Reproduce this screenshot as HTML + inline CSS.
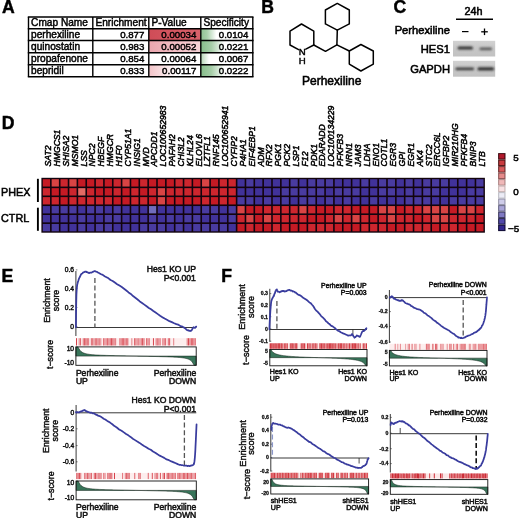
<!DOCTYPE html>
<html><head><meta charset="utf-8"><title>Figure</title>
<style>
html,body{margin:0;padding:0;background:#fff;}
svg{display:block;font-family:'Liberation Sans', Arial, sans-serif;}
</style></head><body>
<svg width="520" height="518" viewBox="0 0 520 518" font-family="Liberation Sans, Arial, sans-serif">
<rect width="520" height="518" fill="#fff"/>
<text x="2.0" y="12.6" font-size="17.6" text-anchor="start" font-weight="bold" font-style="normal" fill="#000" stroke="#000" stroke-width="0.45" >A</text>
<text x="261.2" y="12.8" font-size="17.6" text-anchor="start" font-weight="bold" font-style="normal" fill="#000" stroke="#000" stroke-width="0.45" >B</text>
<text x="393.6" y="12.8" font-size="17.6" text-anchor="start" font-weight="bold" font-style="normal" fill="#000" stroke="#000" stroke-width="0.45" >C</text>
<text x="1.8" y="129.1" font-size="17.6" text-anchor="start" font-weight="bold" font-style="normal" fill="#000" stroke="#000" stroke-width="0.45" >D</text>
<text x="1.6" y="281.9" font-size="17.6" text-anchor="start" font-weight="bold" font-style="normal" fill="#000" stroke="#000" stroke-width="0.45" >E</text>
<text x="221.2" y="281.8" font-size="17.6" text-anchor="start" font-weight="bold" font-style="normal" fill="#000" stroke="#000" stroke-width="0.45" >F</text>
<defs>
<linearGradient id="s0" x1="0" x2="1" y1="0" y2="0"><stop offset="0" stop-color="#8fc293"/><stop offset="0.12" stop-color="#a9d0ab"/><stop offset="0.3" stop-color="#ffffff"/></linearGradient>
<linearGradient id="s1" x1="0" x2="1" y1="0" y2="0"><stop offset="0" stop-color="#86bd8a"/><stop offset="0.2" stop-color="#a5cda7"/><stop offset="0.45" stop-color="#ffffff"/></linearGradient>
<linearGradient id="s2" x1="0" x2="1" y1="0" y2="0"><stop offset="0" stop-color="#b4d6b5"/><stop offset="0.16" stop-color="#ffffff"/></linearGradient>
<linearGradient id="s3" x1="0" x2="1" y1="0" y2="0"><stop offset="0" stop-color="#86bd8a"/><stop offset="0.2" stop-color="#a5cda7"/><stop offset="0.45" stop-color="#ffffff"/></linearGradient>
<linearGradient id="p0" x1="0" x2="1" y1="0" y2="0"><stop offset="0" stop-color="#cf4c57"/><stop offset="1" stop-color="#d9626b"/></linearGradient>
<linearGradient id="p1" x1="0" x2="1" y1="0" y2="0"><stop offset="0" stop-color="#eba6ae"/><stop offset="1" stop-color="#f6d3d7"/></linearGradient>
<linearGradient id="p3" x1="0" x2="1" y1="0" y2="0"><stop offset="0" stop-color="#f3c3c8"/><stop offset="0.55" stop-color="#ffffff"/></linearGradient>
</defs>
<rect x="148.8" y="28.7" width="52.0" height="11.8" fill="url(#p0)"/>
<rect x="200.8" y="28.7" width="52.0" height="11.8" fill="url(#s0)"/>
<rect x="148.8" y="40.5" width="52.0" height="12.299999999999997" fill="url(#p1)"/>
<rect x="200.8" y="40.5" width="52.0" height="12.299999999999997" fill="url(#s1)"/>
<rect x="148.8" y="52.8" width="52.0" height="12.0" fill="#ffffff"/>
<rect x="200.8" y="52.8" width="52.0" height="12.0" fill="url(#s2)"/>
<rect x="148.8" y="64.8" width="52.0" height="11.900000000000006" fill="url(#p3)"/>
<rect x="200.8" y="64.8" width="52.0" height="11.900000000000006" fill="url(#s3)"/>
<line x1="27.8" x2="253.5" y1="17" y2="17" stroke="#000" stroke-width="1.5"/>
<line x1="27.8" x2="253.5" y1="28.7" y2="28.7" stroke="#000" stroke-width="1.5"/>
<line x1="27.8" x2="253.5" y1="40.5" y2="40.5" stroke="#000" stroke-width="1.5"/>
<line x1="27.8" x2="253.5" y1="52.8" y2="52.8" stroke="#000" stroke-width="1.5"/>
<line x1="27.8" x2="253.5" y1="64.8" y2="64.8" stroke="#000" stroke-width="1.5"/>
<line x1="27.8" x2="253.5" y1="76.7" y2="76.7" stroke="#000" stroke-width="1.5"/>
<line x1="28.5" x2="28.5" y1="17" y2="76.7" stroke="#000" stroke-width="1.4"/>
<line x1="92.8" x2="92.8" y1="17" y2="76.7" stroke="#000" stroke-width="1.4"/>
<line x1="148.8" x2="148.8" y1="17" y2="76.7" stroke="#000" stroke-width="1.4"/>
<line x1="200.8" x2="200.8" y1="17" y2="76.7" stroke="#000" stroke-width="1.4"/>
<line x1="252.8" x2="252.8" y1="17" y2="76.7" stroke="#000" stroke-width="1.4"/>
<text x="31.1" y="25.8" font-size="10.15" text-anchor="start" font-weight="normal" font-style="normal" fill="#000" stroke="#000" stroke-width="0.45" >Cmap Name</text>
<text x="95.39999999999999" y="25.8" font-size="10.15" text-anchor="start" font-weight="normal" font-style="normal" fill="#000" stroke="#000" stroke-width="0.45" >Enrichment</text>
<text x="151.4" y="25.8" font-size="10.15" text-anchor="start" font-weight="normal" font-style="normal" fill="#000" stroke="#000" stroke-width="0.45" >P-Value</text>
<text x="203.4" y="25.8" font-size="10.15" text-anchor="start" font-weight="normal" font-style="normal" fill="#000" stroke="#000" stroke-width="0.45" >Specificity</text>
<text x="31.1" y="37.5" font-size="10.15" text-anchor="start" font-weight="normal" font-style="normal" fill="#000" stroke="#000" stroke-width="0.45" >perhexiline</text>
<text x="144.4" y="37.5" font-size="9.7" text-anchor="end" font-weight="normal" font-style="normal" fill="#000" stroke="#000" stroke-width="0.45" >0.877</text>
<text x="196.4" y="37.5" font-size="9.7" text-anchor="end" font-weight="normal" font-style="normal" fill="#000" stroke="#000" stroke-width="0.45" >0.00034</text>
<text x="248.4" y="37.5" font-size="9.7" text-anchor="end" font-weight="normal" font-style="normal" fill="#000" stroke="#000" stroke-width="0.45" >0.0104</text>
<text x="31.1" y="49.8" font-size="10.15" text-anchor="start" font-weight="normal" font-style="normal" fill="#000" stroke="#000" stroke-width="0.45" >quinostatin</text>
<text x="144.4" y="49.8" font-size="9.7" text-anchor="end" font-weight="normal" font-style="normal" fill="#000" stroke="#000" stroke-width="0.45" >0.983</text>
<text x="196.4" y="49.8" font-size="9.7" text-anchor="end" font-weight="normal" font-style="normal" fill="#000" stroke="#000" stroke-width="0.45" >0.00052</text>
<text x="248.4" y="49.8" font-size="9.7" text-anchor="end" font-weight="normal" font-style="normal" fill="#000" stroke="#000" stroke-width="0.45" >0.0221</text>
<text x="31.1" y="61.8" font-size="10.15" text-anchor="start" font-weight="normal" font-style="normal" fill="#000" stroke="#000" stroke-width="0.45" >propafenone</text>
<text x="144.4" y="61.8" font-size="9.7" text-anchor="end" font-weight="normal" font-style="normal" fill="#000" stroke="#000" stroke-width="0.45" >0.854</text>
<text x="196.4" y="61.8" font-size="9.7" text-anchor="end" font-weight="normal" font-style="normal" fill="#000" stroke="#000" stroke-width="0.45" >0.00064</text>
<text x="248.4" y="61.8" font-size="9.7" text-anchor="end" font-weight="normal" font-style="normal" fill="#000" stroke="#000" stroke-width="0.45" >0.0067</text>
<text x="31.1" y="73.7" font-size="10.15" text-anchor="start" font-weight="normal" font-style="normal" fill="#000" stroke="#000" stroke-width="0.45" >bepridil</text>
<text x="144.4" y="73.7" font-size="9.7" text-anchor="end" font-weight="normal" font-style="normal" fill="#000" stroke="#000" stroke-width="0.45" >0.833</text>
<text x="196.4" y="73.7" font-size="9.7" text-anchor="end" font-weight="normal" font-style="normal" fill="#000" stroke="#000" stroke-width="0.45" >0.00117</text>
<text x="248.4" y="73.7" font-size="9.7" text-anchor="end" font-weight="normal" font-style="normal" fill="#000" stroke="#000" stroke-width="0.45" >0.0222</text>
<path d="M337.3,3.4 L349.3,10.0 L349.3,23.9 L337.3,30.1 L325.4,23.9 L325.4,10.0 Z" fill="none" stroke="#000" stroke-width="1.5" stroke-linejoin="round" stroke-linecap="round"/>
<path d="M349.3,51.0 L360.9,44.5 L373.3,51.0 L373.3,64.1 L360.9,71.0 L349.3,64.1 Z" fill="none" stroke="#000" stroke-width="1.5" stroke-linejoin="round" stroke-linecap="round"/>
<path d="M305.8,49.2 L313.8,45.0 L313.8,31.2 L301.5,24.0 L290.0,31.2 L290.0,45.0 L298.6,49.6" fill="none" stroke="#000" stroke-width="1.5" stroke-linejoin="round" stroke-linecap="round"/>
<path d="M313.8,45.0 L325.5,51.3 L336.9,44.8 L337.3,30.1" fill="none" stroke="#000" stroke-width="1.5" stroke-linejoin="round" stroke-linecap="round"/>
<path d="M336.9,44.8 L349.3,51.0" fill="none" stroke="#000" stroke-width="1.5" stroke-linejoin="round" stroke-linecap="round"/>
<text x="302.3" y="55.2" font-size="9.6" text-anchor="middle" font-weight="normal" font-style="normal" fill="#000" stroke="#000" stroke-width="0.45" >N</text>
<text x="302.3" y="64.1" font-size="9.6" text-anchor="middle" font-weight="normal" font-style="normal" fill="#000" stroke="#000" stroke-width="0.45" >H</text>
<text x="331.7" y="85.0" font-size="12" text-anchor="middle" font-weight="normal" font-style="normal" fill="#000" stroke="#000" stroke-width="0.55" >Perhexiline</text>
<text x="473.5" y="15" font-size="10.8" text-anchor="middle" font-weight="normal" font-style="normal" fill="#000" stroke="#000" stroke-width="0.55" >24h</text>
<line x1="456" x2="493" y1="19.3" y2="19.3" stroke="#000" stroke-width="1.6"/>
<text x="450" y="34.0" font-size="11.2" text-anchor="end" font-weight="normal" font-style="normal" fill="#000" stroke="#000" stroke-width="0.55" >Perhexiline</text>
<line x1="462" x2="468.5" y1="31.6" y2="31.6" stroke="#000" stroke-width="1.2"/>
<line x1="481.2" x2="487.8" y1="31.8" y2="31.8" stroke="#000" stroke-width="1.3"/>
<line x1="484.5" x2="484.5" y1="28.5" y2="35.1" stroke="#000" stroke-width="1.3"/>
<text x="450" y="53" font-size="11.2" text-anchor="end" font-weight="normal" font-style="normal" fill="#000" stroke="#000" stroke-width="0.55" >HES1</text>
<text x="450" y="72.9" font-size="11.2" text-anchor="end" font-weight="normal" font-style="normal" fill="#000" stroke="#000" stroke-width="0.55" >GAPDH</text>
<defs><filter id="bl" x="-20%" y="-50%" width="140%" height="200%"><feGaussianBlur stdDeviation="0.9"/></filter></defs>
<defs><linearGradient id="bg1" x1="0" x2="0" y1="0" y2="1"><stop offset="0" stop-color="#d2d2d2"/><stop offset="0.5" stop-color="#c6c6c6"/><stop offset="1" stop-color="#c2c2c2"/></linearGradient></defs>
<rect x="453" y="40.8" width="42.2" height="15.7" fill="url(#bg1)"/>
<rect x="453" y="60.8" width="42.2" height="15.9" fill="url(#bg1)"/>
<g filter="url(#bl)">
<rect x="457.5" y="46.4" width="15.5" height="3.2" rx="1.5" fill="#333"/>
<rect x="479.5" y="47.6" width="12.5" height="2.6" rx="1.3" fill="#5a5a5a"/>
<rect x="455.5" y="67.6" width="18.5" height="2.6" rx="1.3" fill="#3c3c3c"/>
<rect x="477.5" y="67.2" width="16.5" height="3.2" rx="1.5" fill="#303030"/>
</g>
<rect x="41.4" y="177.8" width="443.5" height="54.9" fill="#12040e"/>
<rect x="42.80" y="179.20" width="7.25" height="7.35" fill="#c51a24"/>
<rect x="51.65" y="179.20" width="7.25" height="7.35" fill="#d84444"/>
<rect x="60.49" y="179.20" width="7.25" height="7.35" fill="#cd262e"/>
<rect x="69.34" y="179.20" width="7.25" height="7.35" fill="#d84444"/>
<rect x="78.18" y="179.20" width="7.25" height="7.35" fill="#c51a24"/>
<rect x="87.03" y="179.20" width="7.25" height="7.35" fill="#c51a24"/>
<rect x="95.88" y="179.20" width="7.25" height="7.35" fill="#cd262e"/>
<rect x="104.72" y="179.20" width="7.25" height="7.35" fill="#c51a24"/>
<rect x="113.57" y="179.20" width="7.25" height="7.35" fill="#cd262e"/>
<rect x="122.41" y="179.20" width="7.25" height="7.35" fill="#d84444"/>
<rect x="131.26" y="179.20" width="7.25" height="7.35" fill="#c51a24"/>
<rect x="140.11" y="179.20" width="7.25" height="7.35" fill="#cd262e"/>
<rect x="148.95" y="179.20" width="7.25" height="7.35" fill="#c51a24"/>
<rect x="157.80" y="179.20" width="7.25" height="7.35" fill="#c51a24"/>
<rect x="166.64" y="179.20" width="7.25" height="7.35" fill="#c51a24"/>
<rect x="175.49" y="179.20" width="7.25" height="7.35" fill="#cd262e"/>
<rect x="184.34" y="179.20" width="7.25" height="7.35" fill="#cd262e"/>
<rect x="193.18" y="179.20" width="7.25" height="7.35" fill="#c51a24"/>
<rect x="202.03" y="179.20" width="7.25" height="7.35" fill="#d84444"/>
<rect x="210.87" y="179.20" width="7.25" height="7.35" fill="#c51a24"/>
<rect x="219.72" y="179.20" width="7.25" height="7.35" fill="#cd262e"/>
<rect x="228.57" y="179.20" width="7.25" height="7.35" fill="#cd262e"/>
<rect x="237.41" y="179.20" width="7.25" height="7.35" fill="#41329a"/>
<rect x="246.26" y="179.20" width="7.25" height="7.35" fill="#493ba0"/>
<rect x="255.10" y="179.20" width="7.25" height="7.35" fill="#41329a"/>
<rect x="263.95" y="179.20" width="7.25" height="7.35" fill="#41329a"/>
<rect x="272.80" y="179.20" width="7.25" height="7.35" fill="#41329a"/>
<rect x="281.64" y="179.20" width="7.25" height="7.35" fill="#41329a"/>
<rect x="290.49" y="179.20" width="7.25" height="7.35" fill="#493ba0"/>
<rect x="299.33" y="179.20" width="7.25" height="7.35" fill="#41329a"/>
<rect x="308.18" y="179.20" width="7.25" height="7.35" fill="#493ba0"/>
<rect x="317.03" y="179.20" width="7.25" height="7.35" fill="#493ba0"/>
<rect x="325.87" y="179.20" width="7.25" height="7.35" fill="#493ba0"/>
<rect x="334.72" y="179.20" width="7.25" height="7.35" fill="#41329a"/>
<rect x="343.56" y="179.20" width="7.25" height="7.35" fill="#41329a"/>
<rect x="352.41" y="179.20" width="7.25" height="7.35" fill="#41329a"/>
<rect x="361.26" y="179.20" width="7.25" height="7.35" fill="#493ba0"/>
<rect x="370.10" y="179.20" width="7.25" height="7.35" fill="#41329a"/>
<rect x="378.95" y="179.20" width="7.25" height="7.35" fill="#493ba0"/>
<rect x="387.79" y="179.20" width="7.25" height="7.35" fill="#493ba0"/>
<rect x="396.64" y="179.20" width="7.25" height="7.35" fill="#41329a"/>
<rect x="405.49" y="179.20" width="7.25" height="7.35" fill="#493ba0"/>
<rect x="414.33" y="179.20" width="7.25" height="7.35" fill="#41329a"/>
<rect x="423.18" y="179.20" width="7.25" height="7.35" fill="#493ba0"/>
<rect x="432.02" y="179.20" width="7.25" height="7.35" fill="#493ba0"/>
<rect x="440.87" y="179.20" width="7.25" height="7.35" fill="#493ba0"/>
<rect x="449.72" y="179.20" width="7.25" height="7.35" fill="#41329a"/>
<rect x="458.56" y="179.20" width="7.25" height="7.35" fill="#41329a"/>
<rect x="467.41" y="179.20" width="7.25" height="7.35" fill="#41329a"/>
<rect x="476.25" y="179.20" width="7.25" height="7.35" fill="#493ba0"/>
<rect x="42.80" y="188.15" width="7.25" height="7.35" fill="#cd262e"/>
<rect x="51.65" y="188.15" width="7.25" height="7.35" fill="#c51a24"/>
<rect x="60.49" y="188.15" width="7.25" height="7.35" fill="#c51a24"/>
<rect x="69.34" y="188.15" width="7.25" height="7.35" fill="#cd262e"/>
<rect x="78.18" y="188.15" width="7.25" height="7.35" fill="#e26a64"/>
<rect x="87.03" y="188.15" width="7.25" height="7.35" fill="#cd262e"/>
<rect x="95.88" y="188.15" width="7.25" height="7.35" fill="#c51a24"/>
<rect x="104.72" y="188.15" width="7.25" height="7.35" fill="#c51a24"/>
<rect x="113.57" y="188.15" width="7.25" height="7.35" fill="#cd262e"/>
<rect x="122.41" y="188.15" width="7.25" height="7.35" fill="#c51a24"/>
<rect x="131.26" y="188.15" width="7.25" height="7.35" fill="#cd262e"/>
<rect x="140.11" y="188.15" width="7.25" height="7.35" fill="#c51a24"/>
<rect x="148.95" y="188.15" width="7.25" height="7.35" fill="#cd262e"/>
<rect x="157.80" y="188.15" width="7.25" height="7.35" fill="#d84444"/>
<rect x="166.64" y="188.15" width="7.25" height="7.35" fill="#cd262e"/>
<rect x="175.49" y="188.15" width="7.25" height="7.35" fill="#cd262e"/>
<rect x="184.34" y="188.15" width="7.25" height="7.35" fill="#cd262e"/>
<rect x="193.18" y="188.15" width="7.25" height="7.35" fill="#cd262e"/>
<rect x="202.03" y="188.15" width="7.25" height="7.35" fill="#cd262e"/>
<rect x="210.87" y="188.15" width="7.25" height="7.35" fill="#cd262e"/>
<rect x="219.72" y="188.15" width="7.25" height="7.35" fill="#cd262e"/>
<rect x="228.57" y="188.15" width="7.25" height="7.35" fill="#cd262e"/>
<rect x="237.41" y="188.15" width="7.25" height="7.35" fill="#41329a"/>
<rect x="246.26" y="188.15" width="7.25" height="7.35" fill="#41329a"/>
<rect x="255.10" y="188.15" width="7.25" height="7.35" fill="#41329a"/>
<rect x="263.95" y="188.15" width="7.25" height="7.35" fill="#41329a"/>
<rect x="272.80" y="188.15" width="7.25" height="7.35" fill="#41329a"/>
<rect x="281.64" y="188.15" width="7.25" height="7.35" fill="#493ba0"/>
<rect x="290.49" y="188.15" width="7.25" height="7.35" fill="#493ba0"/>
<rect x="299.33" y="188.15" width="7.25" height="7.35" fill="#493ba0"/>
<rect x="308.18" y="188.15" width="7.25" height="7.35" fill="#493ba0"/>
<rect x="317.03" y="188.15" width="7.25" height="7.35" fill="#493ba0"/>
<rect x="325.87" y="188.15" width="7.25" height="7.35" fill="#41329a"/>
<rect x="334.72" y="188.15" width="7.25" height="7.35" fill="#493ba0"/>
<rect x="343.56" y="188.15" width="7.25" height="7.35" fill="#493ba0"/>
<rect x="352.41" y="188.15" width="7.25" height="7.35" fill="#493ba0"/>
<rect x="361.26" y="188.15" width="7.25" height="7.35" fill="#41329a"/>
<rect x="370.10" y="188.15" width="7.25" height="7.35" fill="#41329a"/>
<rect x="378.95" y="188.15" width="7.25" height="7.35" fill="#493ba0"/>
<rect x="387.79" y="188.15" width="7.25" height="7.35" fill="#493ba0"/>
<rect x="396.64" y="188.15" width="7.25" height="7.35" fill="#41329a"/>
<rect x="405.49" y="188.15" width="7.25" height="7.35" fill="#493ba0"/>
<rect x="414.33" y="188.15" width="7.25" height="7.35" fill="#41329a"/>
<rect x="423.18" y="188.15" width="7.25" height="7.35" fill="#493ba0"/>
<rect x="432.02" y="188.15" width="7.25" height="7.35" fill="#493ba0"/>
<rect x="440.87" y="188.15" width="7.25" height="7.35" fill="#41329a"/>
<rect x="449.72" y="188.15" width="7.25" height="7.35" fill="#41329a"/>
<rect x="458.56" y="188.15" width="7.25" height="7.35" fill="#41329a"/>
<rect x="467.41" y="188.15" width="7.25" height="7.35" fill="#493ba0"/>
<rect x="476.25" y="188.15" width="7.25" height="7.35" fill="#493ba0"/>
<rect x="42.80" y="197.10" width="7.25" height="7.35" fill="#cd262e"/>
<rect x="51.65" y="197.10" width="7.25" height="7.35" fill="#cd262e"/>
<rect x="60.49" y="197.10" width="7.25" height="7.35" fill="#c51a24"/>
<rect x="69.34" y="197.10" width="7.25" height="7.35" fill="#cd262e"/>
<rect x="78.18" y="197.10" width="7.25" height="7.35" fill="#cd262e"/>
<rect x="87.03" y="197.10" width="7.25" height="7.35" fill="#cd262e"/>
<rect x="95.88" y="197.10" width="7.25" height="7.35" fill="#cd262e"/>
<rect x="104.72" y="197.10" width="7.25" height="7.35" fill="#cd262e"/>
<rect x="113.57" y="197.10" width="7.25" height="7.35" fill="#c51a24"/>
<rect x="122.41" y="197.10" width="7.25" height="7.35" fill="#c51a24"/>
<rect x="131.26" y="197.10" width="7.25" height="7.35" fill="#cd262e"/>
<rect x="140.11" y="197.10" width="7.25" height="7.35" fill="#cd262e"/>
<rect x="148.95" y="197.10" width="7.25" height="7.35" fill="#c51a24"/>
<rect x="157.80" y="197.10" width="7.25" height="7.35" fill="#d84444"/>
<rect x="166.64" y="197.10" width="7.25" height="7.35" fill="#c51a24"/>
<rect x="175.49" y="197.10" width="7.25" height="7.35" fill="#c51a24"/>
<rect x="184.34" y="197.10" width="7.25" height="7.35" fill="#c51a24"/>
<rect x="193.18" y="197.10" width="7.25" height="7.35" fill="#c51a24"/>
<rect x="202.03" y="197.10" width="7.25" height="7.35" fill="#cd262e"/>
<rect x="210.87" y="197.10" width="7.25" height="7.35" fill="#c51a24"/>
<rect x="219.72" y="197.10" width="7.25" height="7.35" fill="#cd262e"/>
<rect x="228.57" y="197.10" width="7.25" height="7.35" fill="#c51a24"/>
<rect x="237.41" y="197.10" width="7.25" height="7.35" fill="#493ba0"/>
<rect x="246.26" y="197.10" width="7.25" height="7.35" fill="#493ba0"/>
<rect x="255.10" y="197.10" width="7.25" height="7.35" fill="#41329a"/>
<rect x="263.95" y="197.10" width="7.25" height="7.35" fill="#493ba0"/>
<rect x="272.80" y="197.10" width="7.25" height="7.35" fill="#41329a"/>
<rect x="281.64" y="197.10" width="7.25" height="7.35" fill="#493ba0"/>
<rect x="290.49" y="197.10" width="7.25" height="7.35" fill="#41329a"/>
<rect x="299.33" y="197.10" width="7.25" height="7.35" fill="#493ba0"/>
<rect x="308.18" y="197.10" width="7.25" height="7.35" fill="#493ba0"/>
<rect x="317.03" y="197.10" width="7.25" height="7.35" fill="#41329a"/>
<rect x="325.87" y="197.10" width="7.25" height="7.35" fill="#493ba0"/>
<rect x="334.72" y="197.10" width="7.25" height="7.35" fill="#41329a"/>
<rect x="343.56" y="197.10" width="7.25" height="7.35" fill="#493ba0"/>
<rect x="352.41" y="197.10" width="7.25" height="7.35" fill="#41329a"/>
<rect x="361.26" y="197.10" width="7.25" height="7.35" fill="#41329a"/>
<rect x="370.10" y="197.10" width="7.25" height="7.35" fill="#493ba0"/>
<rect x="378.95" y="197.10" width="7.25" height="7.35" fill="#41329a"/>
<rect x="387.79" y="197.10" width="7.25" height="7.35" fill="#41329a"/>
<rect x="396.64" y="197.10" width="7.25" height="7.35" fill="#41329a"/>
<rect x="405.49" y="197.10" width="7.25" height="7.35" fill="#493ba0"/>
<rect x="414.33" y="197.10" width="7.25" height="7.35" fill="#493ba0"/>
<rect x="423.18" y="197.10" width="7.25" height="7.35" fill="#493ba0"/>
<rect x="432.02" y="197.10" width="7.25" height="7.35" fill="#41329a"/>
<rect x="440.87" y="197.10" width="7.25" height="7.35" fill="#41329a"/>
<rect x="449.72" y="197.10" width="7.25" height="7.35" fill="#493ba0"/>
<rect x="458.56" y="197.10" width="7.25" height="7.35" fill="#493ba0"/>
<rect x="467.41" y="197.10" width="7.25" height="7.35" fill="#493ba0"/>
<rect x="476.25" y="197.10" width="7.25" height="7.35" fill="#493ba0"/>
<rect x="42.80" y="206.05" width="7.25" height="7.35" fill="#41329a"/>
<rect x="51.65" y="206.05" width="7.25" height="7.35" fill="#493ba0"/>
<rect x="60.49" y="206.05" width="7.25" height="7.35" fill="#493ba0"/>
<rect x="69.34" y="206.05" width="7.25" height="7.35" fill="#493ba0"/>
<rect x="78.18" y="206.05" width="7.25" height="7.35" fill="#41329a"/>
<rect x="87.03" y="206.05" width="7.25" height="7.35" fill="#493ba0"/>
<rect x="95.88" y="206.05" width="7.25" height="7.35" fill="#493ba0"/>
<rect x="104.72" y="206.05" width="7.25" height="7.35" fill="#41329a"/>
<rect x="113.57" y="206.05" width="7.25" height="7.35" fill="#493ba0"/>
<rect x="122.41" y="206.05" width="7.25" height="7.35" fill="#41329a"/>
<rect x="131.26" y="206.05" width="7.25" height="7.35" fill="#41329a"/>
<rect x="140.11" y="206.05" width="7.25" height="7.35" fill="#41329a"/>
<rect x="148.95" y="206.05" width="7.25" height="7.35" fill="#706cbc"/>
<rect x="157.80" y="206.05" width="7.25" height="7.35" fill="#41329a"/>
<rect x="166.64" y="206.05" width="7.25" height="7.35" fill="#41329a"/>
<rect x="175.49" y="206.05" width="7.25" height="7.35" fill="#41329a"/>
<rect x="184.34" y="206.05" width="7.25" height="7.35" fill="#41329a"/>
<rect x="193.18" y="206.05" width="7.25" height="7.35" fill="#41329a"/>
<rect x="202.03" y="206.05" width="7.25" height="7.35" fill="#493ba0"/>
<rect x="210.87" y="206.05" width="7.25" height="7.35" fill="#493ba0"/>
<rect x="219.72" y="206.05" width="7.25" height="7.35" fill="#41329a"/>
<rect x="228.57" y="206.05" width="7.25" height="7.35" fill="#493ba0"/>
<rect x="237.41" y="206.05" width="7.25" height="7.35" fill="#d84444"/>
<rect x="246.26" y="206.05" width="7.25" height="7.35" fill="#c51a24"/>
<rect x="255.10" y="206.05" width="7.25" height="7.35" fill="#c51a24"/>
<rect x="263.95" y="206.05" width="7.25" height="7.35" fill="#cd262e"/>
<rect x="272.80" y="206.05" width="7.25" height="7.35" fill="#cd262e"/>
<rect x="281.64" y="206.05" width="7.25" height="7.35" fill="#cd262e"/>
<rect x="290.49" y="206.05" width="7.25" height="7.35" fill="#cd262e"/>
<rect x="299.33" y="206.05" width="7.25" height="7.35" fill="#d84444"/>
<rect x="308.18" y="206.05" width="7.25" height="7.35" fill="#cd262e"/>
<rect x="317.03" y="206.05" width="7.25" height="7.35" fill="#c51a24"/>
<rect x="325.87" y="206.05" width="7.25" height="7.35" fill="#c51a24"/>
<rect x="334.72" y="206.05" width="7.25" height="7.35" fill="#cd262e"/>
<rect x="343.56" y="206.05" width="7.25" height="7.35" fill="#cd262e"/>
<rect x="352.41" y="206.05" width="7.25" height="7.35" fill="#c51a24"/>
<rect x="361.26" y="206.05" width="7.25" height="7.35" fill="#c51a24"/>
<rect x="370.10" y="206.05" width="7.25" height="7.35" fill="#c51a24"/>
<rect x="378.95" y="206.05" width="7.25" height="7.35" fill="#d84444"/>
<rect x="387.79" y="206.05" width="7.25" height="7.35" fill="#d84444"/>
<rect x="396.64" y="206.05" width="7.25" height="7.35" fill="#c51a24"/>
<rect x="405.49" y="206.05" width="7.25" height="7.35" fill="#cd262e"/>
<rect x="414.33" y="206.05" width="7.25" height="7.35" fill="#cd262e"/>
<rect x="423.18" y="206.05" width="7.25" height="7.35" fill="#d84444"/>
<rect x="432.02" y="206.05" width="7.25" height="7.35" fill="#d84444"/>
<rect x="440.87" y="206.05" width="7.25" height="7.35" fill="#d84444"/>
<rect x="449.72" y="206.05" width="7.25" height="7.35" fill="#c51a24"/>
<rect x="458.56" y="206.05" width="7.25" height="7.35" fill="#d84444"/>
<rect x="467.41" y="206.05" width="7.25" height="7.35" fill="#d84444"/>
<rect x="476.25" y="206.05" width="7.25" height="7.35" fill="#cd262e"/>
<rect x="42.80" y="215.00" width="7.25" height="7.35" fill="#41329a"/>
<rect x="51.65" y="215.00" width="7.25" height="7.35" fill="#41329a"/>
<rect x="60.49" y="215.00" width="7.25" height="7.35" fill="#41329a"/>
<rect x="69.34" y="215.00" width="7.25" height="7.35" fill="#41329a"/>
<rect x="78.18" y="215.00" width="7.25" height="7.35" fill="#493ba0"/>
<rect x="87.03" y="215.00" width="7.25" height="7.35" fill="#41329a"/>
<rect x="95.88" y="215.00" width="7.25" height="7.35" fill="#41329a"/>
<rect x="104.72" y="215.00" width="7.25" height="7.35" fill="#493ba0"/>
<rect x="113.57" y="215.00" width="7.25" height="7.35" fill="#493ba0"/>
<rect x="122.41" y="215.00" width="7.25" height="7.35" fill="#41329a"/>
<rect x="131.26" y="215.00" width="7.25" height="7.35" fill="#41329a"/>
<rect x="140.11" y="215.00" width="7.25" height="7.35" fill="#41329a"/>
<rect x="148.95" y="215.00" width="7.25" height="7.35" fill="#493ba0"/>
<rect x="157.80" y="215.00" width="7.25" height="7.35" fill="#41329a"/>
<rect x="166.64" y="215.00" width="7.25" height="7.35" fill="#493ba0"/>
<rect x="175.49" y="215.00" width="7.25" height="7.35" fill="#41329a"/>
<rect x="184.34" y="215.00" width="7.25" height="7.35" fill="#493ba0"/>
<rect x="193.18" y="215.00" width="7.25" height="7.35" fill="#493ba0"/>
<rect x="202.03" y="215.00" width="7.25" height="7.35" fill="#41329a"/>
<rect x="210.87" y="215.00" width="7.25" height="7.35" fill="#41329a"/>
<rect x="219.72" y="215.00" width="7.25" height="7.35" fill="#41329a"/>
<rect x="228.57" y="215.00" width="7.25" height="7.35" fill="#493ba0"/>
<rect x="237.41" y="215.00" width="7.25" height="7.35" fill="#cd262e"/>
<rect x="246.26" y="215.00" width="7.25" height="7.35" fill="#d84444"/>
<rect x="255.10" y="215.00" width="7.25" height="7.35" fill="#c51a24"/>
<rect x="263.95" y="215.00" width="7.25" height="7.35" fill="#d84444"/>
<rect x="272.80" y="215.00" width="7.25" height="7.35" fill="#cd262e"/>
<rect x="281.64" y="215.00" width="7.25" height="7.35" fill="#cd262e"/>
<rect x="290.49" y="215.00" width="7.25" height="7.35" fill="#cd262e"/>
<rect x="299.33" y="215.00" width="7.25" height="7.35" fill="#cd262e"/>
<rect x="308.18" y="215.00" width="7.25" height="7.35" fill="#c51a24"/>
<rect x="317.03" y="215.00" width="7.25" height="7.35" fill="#c51a24"/>
<rect x="325.87" y="215.00" width="7.25" height="7.35" fill="#cd262e"/>
<rect x="334.72" y="215.00" width="7.25" height="7.35" fill="#d84444"/>
<rect x="343.56" y="215.00" width="7.25" height="7.35" fill="#cd262e"/>
<rect x="352.41" y="215.00" width="7.25" height="7.35" fill="#d84444"/>
<rect x="361.26" y="215.00" width="7.25" height="7.35" fill="#cd262e"/>
<rect x="370.10" y="215.00" width="7.25" height="7.35" fill="#c51a24"/>
<rect x="378.95" y="215.00" width="7.25" height="7.35" fill="#cd262e"/>
<rect x="387.79" y="215.00" width="7.25" height="7.35" fill="#d84444"/>
<rect x="396.64" y="215.00" width="7.25" height="7.35" fill="#cd262e"/>
<rect x="405.49" y="215.00" width="7.25" height="7.35" fill="#cd262e"/>
<rect x="414.33" y="215.00" width="7.25" height="7.35" fill="#c51a24"/>
<rect x="423.18" y="215.00" width="7.25" height="7.35" fill="#cd262e"/>
<rect x="432.02" y="215.00" width="7.25" height="7.35" fill="#d84444"/>
<rect x="440.87" y="215.00" width="7.25" height="7.35" fill="#d84444"/>
<rect x="449.72" y="215.00" width="7.25" height="7.35" fill="#cd262e"/>
<rect x="458.56" y="215.00" width="7.25" height="7.35" fill="#cd262e"/>
<rect x="467.41" y="215.00" width="7.25" height="7.35" fill="#cd262e"/>
<rect x="476.25" y="215.00" width="7.25" height="7.35" fill="#c51a24"/>
<rect x="42.80" y="223.95" width="7.25" height="7.35" fill="#493ba0"/>
<rect x="51.65" y="223.95" width="7.25" height="7.35" fill="#493ba0"/>
<rect x="60.49" y="223.95" width="7.25" height="7.35" fill="#41329a"/>
<rect x="69.34" y="223.95" width="7.25" height="7.35" fill="#41329a"/>
<rect x="78.18" y="223.95" width="7.25" height="7.35" fill="#493ba0"/>
<rect x="87.03" y="223.95" width="7.25" height="7.35" fill="#41329a"/>
<rect x="95.88" y="223.95" width="7.25" height="7.35" fill="#493ba0"/>
<rect x="104.72" y="223.95" width="7.25" height="7.35" fill="#493ba0"/>
<rect x="113.57" y="223.95" width="7.25" height="7.35" fill="#41329a"/>
<rect x="122.41" y="223.95" width="7.25" height="7.35" fill="#41329a"/>
<rect x="131.26" y="223.95" width="7.25" height="7.35" fill="#41329a"/>
<rect x="140.11" y="223.95" width="7.25" height="7.35" fill="#493ba0"/>
<rect x="148.95" y="223.95" width="7.25" height="7.35" fill="#493ba0"/>
<rect x="157.80" y="223.95" width="7.25" height="7.35" fill="#493ba0"/>
<rect x="166.64" y="223.95" width="7.25" height="7.35" fill="#41329a"/>
<rect x="175.49" y="223.95" width="7.25" height="7.35" fill="#493ba0"/>
<rect x="184.34" y="223.95" width="7.25" height="7.35" fill="#41329a"/>
<rect x="193.18" y="223.95" width="7.25" height="7.35" fill="#493ba0"/>
<rect x="202.03" y="223.95" width="7.25" height="7.35" fill="#493ba0"/>
<rect x="210.87" y="223.95" width="7.25" height="7.35" fill="#493ba0"/>
<rect x="219.72" y="223.95" width="7.25" height="7.35" fill="#493ba0"/>
<rect x="228.57" y="223.95" width="7.25" height="7.35" fill="#41329a"/>
<rect x="237.41" y="223.95" width="7.25" height="7.35" fill="#c51a24"/>
<rect x="246.26" y="223.95" width="7.25" height="7.35" fill="#cd262e"/>
<rect x="255.10" y="223.95" width="7.25" height="7.35" fill="#c51a24"/>
<rect x="263.95" y="223.95" width="7.25" height="7.35" fill="#c51a24"/>
<rect x="272.80" y="223.95" width="7.25" height="7.35" fill="#cd262e"/>
<rect x="281.64" y="223.95" width="7.25" height="7.35" fill="#c51a24"/>
<rect x="290.49" y="223.95" width="7.25" height="7.35" fill="#c51a24"/>
<rect x="299.33" y="223.95" width="7.25" height="7.35" fill="#c51a24"/>
<rect x="308.18" y="223.95" width="7.25" height="7.35" fill="#cd262e"/>
<rect x="317.03" y="223.95" width="7.25" height="7.35" fill="#cd262e"/>
<rect x="325.87" y="223.95" width="7.25" height="7.35" fill="#cd262e"/>
<rect x="334.72" y="223.95" width="7.25" height="7.35" fill="#c51a24"/>
<rect x="343.56" y="223.95" width="7.25" height="7.35" fill="#c51a24"/>
<rect x="352.41" y="223.95" width="7.25" height="7.35" fill="#c51a24"/>
<rect x="361.26" y="223.95" width="7.25" height="7.35" fill="#cd262e"/>
<rect x="370.10" y="223.95" width="7.25" height="7.35" fill="#cd262e"/>
<rect x="378.95" y="223.95" width="7.25" height="7.35" fill="#cd262e"/>
<rect x="387.79" y="223.95" width="7.25" height="7.35" fill="#c51a24"/>
<rect x="396.64" y="223.95" width="7.25" height="7.35" fill="#c51a24"/>
<rect x="405.49" y="223.95" width="7.25" height="7.35" fill="#cd262e"/>
<rect x="414.33" y="223.95" width="7.25" height="7.35" fill="#cd262e"/>
<rect x="423.18" y="223.95" width="7.25" height="7.35" fill="#cd262e"/>
<rect x="432.02" y="223.95" width="7.25" height="7.35" fill="#c51a24"/>
<rect x="440.87" y="223.95" width="7.25" height="7.35" fill="#cd262e"/>
<rect x="449.72" y="223.95" width="7.25" height="7.35" fill="#cd262e"/>
<rect x="458.56" y="223.95" width="7.25" height="7.35" fill="#c51a24"/>
<rect x="467.41" y="223.95" width="7.25" height="7.35" fill="#c51a24"/>
<rect x="476.25" y="223.95" width="7.25" height="7.35" fill="#c51a24"/>
<text transform="translate(51.22,166.4) rotate(-90)" font-size="8.6" text-anchor="start" font-weight="normal" font-style="italic" fill="#000" stroke="#000" stroke-width="0.5" >SAT2</text>
<text transform="translate(60.07,166.4) rotate(-90)" font-size="8.6" text-anchor="start" font-weight="normal" font-style="italic" fill="#000" stroke="#000" stroke-width="0.5" >HMGCS1</text>
<text transform="translate(68.92,166.4) rotate(-90)" font-size="8.6" text-anchor="start" font-weight="normal" font-style="italic" fill="#000" stroke="#000" stroke-width="0.5" >SHISA2</text>
<text transform="translate(77.76,166.4) rotate(-90)" font-size="8.6" text-anchor="start" font-weight="normal" font-style="italic" fill="#000" stroke="#000" stroke-width="0.5" >MSMO1</text>
<text transform="translate(86.61,166.4) rotate(-90)" font-size="8.6" text-anchor="start" font-weight="normal" font-style="italic" fill="#000" stroke="#000" stroke-width="0.5" >LSS</text>
<text transform="translate(95.45,166.4) rotate(-90)" font-size="8.6" text-anchor="start" font-weight="normal" font-style="italic" fill="#000" stroke="#000" stroke-width="0.5" >NPC2</text>
<text transform="translate(104.30,166.4) rotate(-90)" font-size="8.6" text-anchor="start" font-weight="normal" font-style="italic" fill="#000" stroke="#000" stroke-width="0.5" >HBEGF</text>
<text transform="translate(113.14,166.4) rotate(-90)" font-size="8.6" text-anchor="start" font-weight="normal" font-style="italic" fill="#000" stroke="#000" stroke-width="0.5" >HMGCR</text>
<text transform="translate(121.99,166.4) rotate(-90)" font-size="8.6" text-anchor="start" font-weight="normal" font-style="italic" fill="#000" stroke="#000" stroke-width="0.5" >H1F0</text>
<text transform="translate(130.84,166.4) rotate(-90)" font-size="8.6" text-anchor="start" font-weight="normal" font-style="italic" fill="#000" stroke="#000" stroke-width="0.5" >CYP51A1</text>
<text transform="translate(139.68,166.4) rotate(-90)" font-size="8.6" text-anchor="start" font-weight="normal" font-style="italic" fill="#000" stroke="#000" stroke-width="0.5" >INSIG1</text>
<text transform="translate(148.53,166.4) rotate(-90)" font-size="8.6" text-anchor="start" font-weight="normal" font-style="italic" fill="#000" stroke="#000" stroke-width="0.5" >MVD</text>
<text transform="translate(157.37,166.4) rotate(-90)" font-size="8.6" text-anchor="start" font-weight="normal" font-style="italic" fill="#000" stroke="#000" stroke-width="0.5" >APCDD1</text>
<text transform="translate(166.22,166.4) rotate(-90)" font-size="8.6" text-anchor="start" font-weight="normal" font-style="italic" fill="#000" stroke="#000" stroke-width="0.5" >LOC100652983</text>
<text transform="translate(175.07,166.4) rotate(-90)" font-size="8.6" text-anchor="start" font-weight="normal" font-style="italic" fill="#000" stroke="#000" stroke-width="0.5" >PAFAH2</text>
<text transform="translate(183.91,166.4) rotate(-90)" font-size="8.6" text-anchor="start" font-weight="normal" font-style="italic" fill="#000" stroke="#000" stroke-width="0.5" >CHI3L2</text>
<text transform="translate(192.76,166.4) rotate(-90)" font-size="8.6" text-anchor="start" font-weight="normal" font-style="italic" fill="#000" stroke="#000" stroke-width="0.5" >KLHL24</text>
<text transform="translate(201.60,166.4) rotate(-90)" font-size="8.6" text-anchor="start" font-weight="normal" font-style="italic" fill="#000" stroke="#000" stroke-width="0.5" >ELOVL6</text>
<text transform="translate(210.45,166.4) rotate(-90)" font-size="8.6" text-anchor="start" font-weight="normal" font-style="italic" fill="#000" stroke="#000" stroke-width="0.5" >LZTFL1</text>
<text transform="translate(219.30,166.4) rotate(-90)" font-size="8.6" text-anchor="start" font-weight="normal" font-style="italic" fill="#000" stroke="#000" stroke-width="0.5" >RNF145</text>
<text transform="translate(228.14,166.4) rotate(-90)" font-size="8.6" text-anchor="start" font-weight="normal" font-style="italic" fill="#000" stroke="#000" stroke-width="0.5" >LOC100652941</text>
<text transform="translate(236.99,166.4) rotate(-90)" font-size="8.6" text-anchor="start" font-weight="normal" font-style="italic" fill="#000" stroke="#000" stroke-width="0.5" >CYFIP2</text>
<text transform="translate(245.83,166.4) rotate(-90)" font-size="8.6" text-anchor="start" font-weight="normal" font-style="italic" fill="#000" stroke="#000" stroke-width="0.5" >P4HA1</text>
<text transform="translate(254.68,166.4) rotate(-90)" font-size="8.6" text-anchor="start" font-weight="normal" font-style="italic" fill="#000" stroke="#000" stroke-width="0.5" >EIF4EBP1</text>
<text transform="translate(263.53,166.4) rotate(-90)" font-size="8.6" text-anchor="start" font-weight="normal" font-style="italic" fill="#000" stroke="#000" stroke-width="0.5" >ADM</text>
<text transform="translate(272.37,166.4) rotate(-90)" font-size="8.6" text-anchor="start" font-weight="normal" font-style="italic" fill="#000" stroke="#000" stroke-width="0.5" >RFX2</text>
<text transform="translate(281.22,166.4) rotate(-90)" font-size="8.6" text-anchor="start" font-weight="normal" font-style="italic" fill="#000" stroke="#000" stroke-width="0.5" >PGK1</text>
<text transform="translate(290.06,166.4) rotate(-90)" font-size="8.6" text-anchor="start" font-weight="normal" font-style="italic" fill="#000" stroke="#000" stroke-width="0.5" >PCK2</text>
<text transform="translate(298.91,166.4) rotate(-90)" font-size="8.6" text-anchor="start" font-weight="normal" font-style="italic" fill="#000" stroke="#000" stroke-width="0.5" >LSP1</text>
<text transform="translate(307.76,166.4) rotate(-90)" font-size="8.6" text-anchor="start" font-weight="normal" font-style="italic" fill="#000" stroke="#000" stroke-width="0.5" >F12</text>
<text transform="translate(316.60,166.4) rotate(-90)" font-size="8.6" text-anchor="start" font-weight="normal" font-style="italic" fill="#000" stroke="#000" stroke-width="0.5" >PDK1</text>
<text transform="translate(325.45,166.4) rotate(-90)" font-size="8.6" text-anchor="start" font-weight="normal" font-style="italic" fill="#000" stroke="#000" stroke-width="0.5" >EDARADD</text>
<text transform="translate(334.30,166.4) rotate(-90)" font-size="8.6" text-anchor="start" font-weight="normal" font-style="italic" fill="#000" stroke="#000" stroke-width="0.5" >LOC100134229</text>
<text transform="translate(343.14,166.4) rotate(-90)" font-size="8.6" text-anchor="start" font-weight="normal" font-style="italic" fill="#000" stroke="#000" stroke-width="0.5" >PFKFB3</text>
<text transform="translate(351.99,166.4) rotate(-90)" font-size="8.6" text-anchor="start" font-weight="normal" font-style="italic" fill="#000" stroke="#000" stroke-width="0.5" >NRN1</text>
<text transform="translate(360.83,166.4) rotate(-90)" font-size="8.6" text-anchor="start" font-weight="normal" font-style="italic" fill="#000" stroke="#000" stroke-width="0.5" >JAM3</text>
<text transform="translate(369.68,166.4) rotate(-90)" font-size="8.6" text-anchor="start" font-weight="normal" font-style="italic" fill="#000" stroke="#000" stroke-width="0.5" >LDHA</text>
<text transform="translate(378.53,166.4) rotate(-90)" font-size="8.6" text-anchor="start" font-weight="normal" font-style="italic" fill="#000" stroke="#000" stroke-width="0.5" >ENO1</text>
<text transform="translate(387.37,166.4) rotate(-90)" font-size="8.6" text-anchor="start" font-weight="normal" font-style="italic" fill="#000" stroke="#000" stroke-width="0.5" >COTL1</text>
<text transform="translate(396.22,166.4) rotate(-90)" font-size="8.6" text-anchor="start" font-weight="normal" font-style="italic" fill="#000" stroke="#000" stroke-width="0.5" >EGR3</text>
<text transform="translate(405.06,166.4) rotate(-90)" font-size="8.6" text-anchor="start" font-weight="normal" font-style="italic" fill="#000" stroke="#000" stroke-width="0.5" >GPI</text>
<text transform="translate(413.91,166.4) rotate(-90)" font-size="8.6" text-anchor="start" font-weight="normal" font-style="italic" fill="#000" stroke="#000" stroke-width="0.5" >EGR1</text>
<text transform="translate(422.75,166.4) rotate(-90)" font-size="8.6" text-anchor="start" font-weight="normal" font-style="italic" fill="#000" stroke="#000" stroke-width="0.5" >AK4</text>
<text transform="translate(431.60,166.4) rotate(-90)" font-size="8.6" text-anchor="start" font-weight="normal" font-style="italic" fill="#000" stroke="#000" stroke-width="0.5" >STC2</text>
<text transform="translate(440.45,166.4) rotate(-90)" font-size="8.6" text-anchor="start" font-weight="normal" font-style="italic" fill="#000" stroke="#000" stroke-width="0.5" >ERCC6L</text>
<text transform="translate(449.29,166.4) rotate(-90)" font-size="8.6" text-anchor="start" font-weight="normal" font-style="italic" fill="#000" stroke="#000" stroke-width="0.5" >IGFBP2</text>
<text transform="translate(458.14,166.4) rotate(-90)" font-size="8.6" text-anchor="start" font-weight="normal" font-style="italic" fill="#000" stroke="#000" stroke-width="0.5" >MIR210HG</text>
<text transform="translate(466.99,166.4) rotate(-90)" font-size="8.6" text-anchor="start" font-weight="normal" font-style="italic" fill="#000" stroke="#000" stroke-width="0.5" >PFKFB4</text>
<text transform="translate(475.83,166.4) rotate(-90)" font-size="8.6" text-anchor="start" font-weight="normal" font-style="italic" fill="#000" stroke="#000" stroke-width="0.5" >BNIP3</text>
<text transform="translate(484.68,166.4) rotate(-90)" font-size="8.6" text-anchor="start" font-weight="normal" font-style="italic" fill="#000" stroke="#000" stroke-width="0.5" >LTB</text>
<text x="1" y="196.3" font-size="10.8" text-anchor="start" font-weight="normal" font-style="normal" fill="#000" stroke="#000" stroke-width="0.5" >PHEX</text>
<text x="1" y="222.2" font-size="10.8" text-anchor="start" font-weight="normal" font-style="normal" fill="#000" stroke="#000" stroke-width="0.5" >CTRL</text>
<line x1="37.9" x2="37.9" y1="178.8" y2="202" stroke="#000" stroke-width="1.9"/>
<line x1="37.9" x2="37.9" y1="207.7" y2="230.8" stroke="#000" stroke-width="1.9"/>
<rect x="498.1" y="153.10" width="7.4" height="6.5" fill="#3e080f"/>
<rect x="499.2" y="154.10" width="5.2" height="4.5" fill="#b2182b"/>
<rect x="498.1" y="159.60" width="7.4" height="6.5" fill="#501718"/>
<rect x="499.2" y="160.60" width="5.2" height="4.5" fill="#c93a3e"/>
<rect x="498.1" y="166.10" width="7.4" height="6.5" fill="#6c2c2d"/>
<rect x="499.2" y="167.10" width="5.2" height="4.5" fill="#d9595a"/>
<rect x="498.1" y="172.60" width="7.4" height="6.5" fill="#8d5555"/>
<rect x="499.2" y="173.60" width="5.2" height="4.5" fill="#e58a8a"/>
<rect x="498.1" y="179.10" width="7.4" height="6.5" fill="#ac8484"/>
<rect x="499.2" y="180.10" width="5.2" height="4.5" fill="#f0b8b8"/>
<rect x="498.1" y="185.60" width="7.4" height="6.5" fill="#c6b3b4"/>
<rect x="499.2" y="186.60" width="5.2" height="4.5" fill="#f8e0e2"/>
<rect x="498.1" y="192.10" width="7.4" height="6.5" fill="#bcbcc4"/>
<rect x="499.2" y="193.10" width="5.2" height="4.5" fill="#ececf6"/>
<rect x="498.1" y="198.60" width="7.4" height="6.5" fill="#9593a8"/>
<rect x="499.2" y="199.60" width="5.2" height="4.5" fill="#cfcdea"/>
<rect x="498.1" y="205.10" width="7.4" height="6.5" fill="#686685"/>
<rect x="499.2" y="206.10" width="5.2" height="4.5" fill="#a9a5d8"/>
<rect x="498.1" y="211.60" width="7.4" height="6.5" fill="#3f3c61"/>
<rect x="499.2" y="212.60" width="5.2" height="4.5" fill="#7f79c2"/>
<rect x="498.1" y="218.10" width="7.4" height="6.5" fill="#201d44"/>
<rect x="499.2" y="219.10" width="5.2" height="4.5" fill="#5249ab"/>
<rect x="498.1" y="224.60" width="7.4" height="6.5" fill="#110d32"/>
<rect x="499.2" y="225.60" width="5.2" height="4.5" fill="#32268f"/>
<text x="518.7" y="161.0" font-size="9.8" text-anchor="end" font-weight="normal" font-style="normal" fill="#000" stroke="#000" stroke-width="0.5" >5</text>
<text x="518.7" y="194.9" font-size="9.8" text-anchor="end" font-weight="normal" font-style="normal" fill="#000" stroke="#000" stroke-width="0.5" >0</text>
<text x="519.3" y="232.3" font-size="9.8" text-anchor="end" font-weight="normal" font-style="normal" fill="#000" stroke="#000" stroke-width="0.5" >−5</text>
<line x1="75.9" x2="75.9" y1="271" y2="336" stroke="#222" stroke-width="0.9"/>
<line x1="75.9" x2="196.2" y1="327.5" y2="327.5" stroke="#222" stroke-width="0.9"/>
<line x1="75.9" x2="77.4" y1="269.9" y2="269.9" stroke="#222" stroke-width="0.6"/>
<text x="74.10000000000001" y="272.31199999999995" font-size="6.7" text-anchor="end" font-weight="normal" font-style="normal" fill="#111" stroke="#111" stroke-width="0.42" >0.6</text>
<line x1="75.9" x2="77.4" y1="288.4" y2="288.4" stroke="#222" stroke-width="0.6"/>
<text x="74.10000000000001" y="290.81199999999995" font-size="6.7" text-anchor="end" font-weight="normal" font-style="normal" fill="#111" stroke="#111" stroke-width="0.42" >0.4</text>
<line x1="75.9" x2="77.4" y1="307.5" y2="307.5" stroke="#222" stroke-width="0.6"/>
<text x="74.10000000000001" y="309.912" font-size="6.7" text-anchor="end" font-weight="normal" font-style="normal" fill="#111" stroke="#111" stroke-width="0.42" >0.2</text>
<line x1="75.9" x2="77.4" y1="326.6" y2="326.6" stroke="#222" stroke-width="0.6"/>
<text x="74.10000000000001" y="329.012" font-size="6.7" text-anchor="end" font-weight="normal" font-style="normal" fill="#111" stroke="#111" stroke-width="0.42" >0</text>
<line x1="94.9" x2="94.9" y1="278" y2="327.5" stroke="#555" stroke-width="1.3" stroke-dasharray="5,2.6"/>
<path d="M75.95,327.30 L75.97,324.59 L76.01,320.79 L76.05,316.53 L76.10,312.00 L76.15,307.54 L76.22,303.64 L76.28,300.65 L76.35,297.91 L76.42,295.00 L76.51,292.95 L76.62,290.94 L76.76,288.92 L76.92,287.21 L77.10,285.66 L77.30,284.30 L77.53,283.51 L77.80,282.23 L78.11,281.37 L78.48,280.30 L78.91,278.86 L79.38,277.75 L79.86,276.99 L80.34,275.93 L80.81,274.84 L81.26,274.13 L81.71,273.58 L82.16,273.50 L82.61,273.06 L83.06,272.41 L83.51,272.46 L83.96,272.30 L84.41,271.98 L84.86,271.72 L85.32,271.76 L85.77,271.54 L86.22,271.51 L86.67,272.09 L87.12,272.12 L87.57,272.29 L88.02,272.73 L88.47,272.68 L88.92,273.02 L89.36,273.05 L89.80,272.74 L90.24,272.73 L90.68,272.68 L91.14,272.56 L91.62,272.61 L92.11,272.24 L92.60,272.03 L93.11,271.56 L93.64,271.65 L94.22,271.18 L94.86,271.20 L95.51,271.36 L96.15,271.72 L96.82,271.77 L97.61,272.42 L98.56,272.73 L99.73,273.39 L101.16,274.19 L102.79,274.89 L104.59,276.17 L106.52,277.20 L108.51,278.34 L110.54,280.01 L112.64,281.02 L114.84,282.57 L117.13,284.17 L119.45,285.61 L121.77,287.07 L124.05,288.79 L126.31,290.52 L128.56,292.43 L130.81,293.94 L133.06,296.03 L135.32,297.71 L137.57,299.48 L139.82,301.42 L142.07,302.94 L144.32,304.59 L146.58,306.29 L148.83,307.95 L151.08,309.30 L153.33,310.98 L155.59,312.54 L157.84,314.14 L160.09,315.79 L162.34,317.14 L164.59,318.53 L166.94,319.75 L169.40,321.16 L171.86,322.13 L174.20,323.22 L176.33,324.15 L178.11,324.61 L179.49,325.41 L180.56,326.11 L181.40,326.47 L182.11,326.48 L182.78,326.83 L183.51,327.40 L184.27,327.69 L184.98,328.28 L185.66,328.71 L186.31,329.48 L186.94,329.95 L187.57,330.33 L188.20,330.22 L188.83,330.72 L189.44,330.86 L190.03,330.68 L190.58,331.02 L191.08,330.91 L191.53,330.17 L191.92,329.96 L192.28,329.00 L192.61,328.37 L192.93,328.04 L193.24,327.60 L193.55,327.16 L193.83,327.37 L194.10,327.59 L194.36,327.71 L194.62,327.80 L194.86,327.88 L195.12,327.95 L195.39,327.37 L195.64,327.36 L195.88,327.01 L196.07,326.55 L196.22,326.62" fill="none" stroke="#393c9e" stroke-width="1.75" stroke-linejoin="round" stroke-linecap="round"/>
<rect x="75.9" y="338.2" width="120.29999999999998" height="7.300000000000011" fill="#fdeeee"/>
<line x1="76.50" x2="76.50" y1="338.2" y2="345.5" stroke="#d6404a" stroke-width="1.0" stroke-opacity="1"/>
<line x1="79.20" x2="79.20" y1="338.2" y2="345.5" stroke="#d6404a" stroke-width="0.8" stroke-opacity="0.8"/>
<line x1="80.55" x2="80.55" y1="338.2" y2="345.5" stroke="#d6404a" stroke-width="1.0" stroke-opacity="0.8"/>
<line x1="83.25" x2="83.25" y1="338.2" y2="345.5" stroke="#d6404a" stroke-width="0.8" stroke-opacity="0.9"/>
<line x1="84.60" x2="84.60" y1="338.2" y2="345.5" stroke="#d6404a" stroke-width="1.0" stroke-opacity="0.9"/>
<line x1="85.95" x2="85.95" y1="338.2" y2="345.5" stroke="#d6404a" stroke-width="1.0" stroke-opacity="1"/>
<line x1="87.30" x2="87.30" y1="338.2" y2="345.5" stroke="#d6404a" stroke-width="1.0" stroke-opacity="0.8"/>
<line x1="88.65" x2="88.65" y1="338.2" y2="345.5" stroke="#d6404a" stroke-width="0.8" stroke-opacity="0.9"/>
<line x1="91.35" x2="91.35" y1="338.2" y2="345.5" stroke="#d6404a" stroke-width="0.8" stroke-opacity="1"/>
<line x1="92.70" x2="92.70" y1="338.2" y2="345.5" stroke="#d6404a" stroke-width="1.0" stroke-opacity="0.8"/>
<line x1="94.05" x2="94.05" y1="338.2" y2="345.5" stroke="#d6404a" stroke-width="0.8" stroke-opacity="0.8"/>
<line x1="95.40" x2="95.40" y1="338.2" y2="345.5" stroke="#d6404a" stroke-width="0.8" stroke-opacity="0.9"/>
<line x1="96.75" x2="96.75" y1="338.2" y2="345.5" stroke="#d6404a" stroke-width="1.0" stroke-opacity="0.9"/>
<line x1="98.10" x2="98.10" y1="338.2" y2="345.5" stroke="#d6404a" stroke-width="0.8" stroke-opacity="1"/>
<line x1="99.45" x2="99.45" y1="338.2" y2="345.5" stroke="#d6404a" stroke-width="0.8" stroke-opacity="0.8"/>
<line x1="100.80" x2="100.80" y1="338.2" y2="345.5" stroke="#d6404a" stroke-width="0.8" stroke-opacity="0.8"/>
<line x1="103.50" x2="103.50" y1="338.2" y2="345.5" stroke="#d6404a" stroke-width="0.8" stroke-opacity="0.9"/>
<line x1="104.85" x2="104.85" y1="338.2" y2="345.5" stroke="#d6404a" stroke-width="0.8" stroke-opacity="0.9"/>
<line x1="106.20" x2="106.20" y1="338.2" y2="345.5" stroke="#d6404a" stroke-width="0.8" stroke-opacity="0.9"/>
<line x1="107.55" x2="107.55" y1="338.2" y2="345.5" stroke="#d6404a" stroke-width="0.8" stroke-opacity="1"/>
<line x1="108.90" x2="108.90" y1="338.2" y2="345.5" stroke="#d6404a" stroke-width="0.8" stroke-opacity="1"/>
<line x1="110.25" x2="110.25" y1="338.2" y2="345.5" stroke="#d6404a" stroke-width="1.0" stroke-opacity="0.8"/>
<line x1="111.60" x2="111.60" y1="338.2" y2="345.5" stroke="#d6404a" stroke-width="1.0" stroke-opacity="1"/>
<line x1="112.95" x2="112.95" y1="338.2" y2="345.5" stroke="#d6404a" stroke-width="1.0" stroke-opacity="1"/>
<line x1="114.30" x2="114.30" y1="338.2" y2="345.5" stroke="#d6404a" stroke-width="0.8" stroke-opacity="0.8"/>
<line x1="115.65" x2="115.65" y1="338.2" y2="345.5" stroke="#d6404a" stroke-width="0.8" stroke-opacity="0.9"/>
<line x1="119.70" x2="119.70" y1="338.2" y2="345.5" stroke="#d6404a" stroke-width="0.8" stroke-opacity="0.8"/>
<line x1="121.05" x2="121.05" y1="338.2" y2="345.5" stroke="#d6404a" stroke-width="1.0" stroke-opacity="0.9"/>
<line x1="122.40" x2="122.40" y1="338.2" y2="345.5" stroke="#d6404a" stroke-width="0.8" stroke-opacity="1"/>
<line x1="123.75" x2="123.75" y1="338.2" y2="345.5" stroke="#d6404a" stroke-width="1.0" stroke-opacity="1"/>
<line x1="125.10" x2="125.10" y1="338.2" y2="345.5" stroke="#d6404a" stroke-width="1.0" stroke-opacity="0.8"/>
<line x1="126.45" x2="126.45" y1="338.2" y2="345.5" stroke="#d6404a" stroke-width="0.8" stroke-opacity="0.9"/>
<line x1="127.80" x2="127.80" y1="338.2" y2="345.5" stroke="#d6404a" stroke-width="1.0" stroke-opacity="0.9"/>
<line x1="131.85" x2="131.85" y1="338.2" y2="345.5" stroke="#d6404a" stroke-width="0.8" stroke-opacity="0.8"/>
<line x1="134.55" x2="134.55" y1="338.2" y2="345.5" stroke="#d6404a" stroke-width="1.0" stroke-opacity="0.8"/>
<line x1="135.90" x2="135.90" y1="338.2" y2="345.5" stroke="#d6404a" stroke-width="1.0" stroke-opacity="0.8"/>
<line x1="137.25" x2="137.25" y1="338.2" y2="345.5" stroke="#d6404a" stroke-width="0.8" stroke-opacity="0.8"/>
<line x1="138.60" x2="138.60" y1="338.2" y2="345.5" stroke="#d6404a" stroke-width="0.8" stroke-opacity="0.8"/>
<line x1="139.95" x2="139.95" y1="338.2" y2="345.5" stroke="#d6404a" stroke-width="0.8" stroke-opacity="0.8"/>
<line x1="141.30" x2="141.30" y1="338.2" y2="345.5" stroke="#d6404a" stroke-width="0.8" stroke-opacity="0.9"/>
<line x1="142.65" x2="142.65" y1="338.2" y2="345.5" stroke="#d6404a" stroke-width="1.0" stroke-opacity="1"/>
<line x1="144.00" x2="144.00" y1="338.2" y2="345.5" stroke="#d6404a" stroke-width="0.8" stroke-opacity="1"/>
<line x1="146.70" x2="146.70" y1="338.2" y2="345.5" stroke="#d6404a" stroke-width="1.0" stroke-opacity="0.9"/>
<line x1="148.05" x2="148.05" y1="338.2" y2="345.5" stroke="#d6404a" stroke-width="1.0" stroke-opacity="0.8"/>
<line x1="149.40" x2="149.40" y1="338.2" y2="345.5" stroke="#d6404a" stroke-width="0.8" stroke-opacity="0.8"/>
<line x1="153.45" x2="153.45" y1="338.2" y2="345.5" stroke="#d6404a" stroke-width="1.0" stroke-opacity="1"/>
<line x1="156.15" x2="156.15" y1="338.2" y2="345.5" stroke="#d6404a" stroke-width="0.8" stroke-opacity="1"/>
<line x1="157.50" x2="157.50" y1="338.2" y2="345.5" stroke="#d6404a" stroke-width="0.8" stroke-opacity="0.8"/>
<line x1="158.85" x2="158.85" y1="338.2" y2="345.5" stroke="#d6404a" stroke-width="0.8" stroke-opacity="1"/>
<line x1="160.20" x2="160.20" y1="338.2" y2="345.5" stroke="#d6404a" stroke-width="0.8" stroke-opacity="0.9"/>
<line x1="162.90" x2="162.90" y1="338.2" y2="345.5" stroke="#d6404a" stroke-width="0.8" stroke-opacity="1"/>
<line x1="164.25" x2="164.25" y1="338.2" y2="345.5" stroke="#d6404a" stroke-width="0.8" stroke-opacity="0.9"/>
<line x1="165.60" x2="165.60" y1="338.2" y2="345.5" stroke="#d6404a" stroke-width="1.0" stroke-opacity="0.8"/>
<line x1="168.30" x2="168.30" y1="338.2" y2="345.5" stroke="#d6404a" stroke-width="0.8" stroke-opacity="1"/>
<line x1="169.65" x2="169.65" y1="338.2" y2="345.5" stroke="#d6404a" stroke-width="1.0" stroke-opacity="0.9"/>
<line x1="173.70" x2="173.70" y1="338.2" y2="345.5" stroke="#d6404a" stroke-width="0.8" stroke-opacity="0.8"/>
<line x1="187.20" x2="187.20" y1="338.2" y2="345.5" stroke="#d6404a" stroke-width="0.8" stroke-opacity="0.9"/>
<line x1="188.55" x2="188.55" y1="338.2" y2="345.5" stroke="#d6404a" stroke-width="1.0" stroke-opacity="1"/>
<line x1="189.90" x2="189.90" y1="338.2" y2="345.5" stroke="#d6404a" stroke-width="0.8" stroke-opacity="0.9"/>
<line x1="191.25" x2="191.25" y1="338.2" y2="345.5" stroke="#d6404a" stroke-width="1.0" stroke-opacity="1"/>
<line x1="192.60" x2="192.60" y1="338.2" y2="345.5" stroke="#d6404a" stroke-width="0.8" stroke-opacity="1"/>
<line x1="193.95" x2="193.95" y1="338.2" y2="345.5" stroke="#d6404a" stroke-width="1.0" stroke-opacity="0.9"/>
<line x1="195.30" x2="195.30" y1="338.2" y2="345.5" stroke="#d6404a" stroke-width="0.8" stroke-opacity="1"/>
<rect x="75.9" y="346.9" width="120.29999999999998" height="18.400000000000034" fill="#fff" stroke="none"/>
<path d="M75.9,356.1 L75.90,346.90 L76.90,346.90 L77.91,346.90 L78.91,348.53 L79.91,350.24 L80.91,351.34 L81.92,352.11 L82.92,352.68 L83.92,353.11 L84.92,353.45 L85.93,353.72 L86.93,353.95 L87.93,354.14 L88.93,354.29 L89.94,354.43 L90.94,354.55 L91.94,354.65 L92.94,354.74 L93.95,354.82 L94.95,354.89 L95.95,354.96 L96.95,355.02 L97.95,355.07 L98.96,355.12 L99.96,355.17 L100.96,355.21 L101.97,355.25 L102.97,355.29 L103.97,355.32 L104.97,355.36 L105.97,355.39 L106.98,355.42 L107.98,355.45 L108.98,355.48 L109.98,355.51 L110.99,355.54 L111.99,355.56 L112.99,355.59 L114.00,355.61 L115.00,355.64 L116.00,355.66 L117.00,355.69 L118.00,355.71 L119.01,355.73 L120.01,355.75 L121.01,355.78 L122.02,355.80 L123.02,355.82 L124.02,355.84 L125.02,355.87 L126.03,355.89 L127.03,355.91 L128.03,355.93 L129.03,355.95 L130.03,355.97 L131.04,355.99 L132.04,356.02 L133.04,356.04 L134.04,356.06 L135.05,356.08 L136.05,356.10 L137.05,356.12 L138.06,356.14 L139.06,356.16 L140.06,356.18 L141.06,356.21 L142.06,356.23 L143.07,356.25 L144.07,356.27 L145.07,356.29 L146.07,356.31 L147.08,356.33 L148.08,356.36 L149.08,356.38 L150.08,356.40 L151.09,356.42 L152.09,356.45 L153.09,356.47 L154.09,356.49 L155.10,356.51 L156.10,356.54 L157.10,356.56 L158.10,356.59 L159.11,356.61 L160.11,356.64 L161.11,356.66 L162.12,356.69 L163.12,356.72 L164.12,356.75 L165.12,356.78 L166.12,356.81 L167.13,356.84 L168.13,356.88 L169.13,356.91 L170.13,356.95 L171.14,356.99 L172.14,357.03 L173.14,357.08 L174.14,357.13 L175.15,357.18 L176.15,357.24 L177.15,357.31 L178.15,357.38 L179.16,357.46 L180.16,357.55 L181.16,357.65 L182.16,357.77 L183.17,357.91 L184.17,358.06 L185.17,358.25 L186.17,358.48 L187.18,358.75 L188.18,359.09 L189.18,359.52 L190.19,360.09 L191.19,360.86 L192.19,361.96 L193.19,363.67 L194.19,365.30 L195.20,365.30 L196.20,365.30 L196.2,356.1 Z" fill="#38755a" stroke="#16241c" stroke-width="0.55"/>
<rect x="75.9" y="346.9" width="120.29999999999998" height="18.400000000000034" fill="none" stroke="#111" stroke-width="0.9"/>
<text x="74.10000000000001" y="350.912" font-size="6.7" text-anchor="end" font-weight="normal" font-style="normal" fill="#111" stroke="#111" stroke-width="0.42" >10</text>
<text x="74.10000000000001" y="365.412" font-size="6.7" text-anchor="end" font-weight="normal" font-style="normal" fill="#111" stroke="#111" stroke-width="0.42" >-10</text>
<text x="195.89999999999998" y="271.8" font-size="8.6" text-anchor="end" font-weight="normal" font-style="normal" fill="#111" stroke="#111" stroke-width="0.5" >Hes1 KO UP</text>
<text x="195.89999999999998" y="281.3" font-size="8.6" text-anchor="end" font-weight="normal" font-style="normal" fill="#111" stroke="#111" stroke-width="0.5" >P&lt;0.001</text>
<text x="75.9" y="376.2" font-size="8.6" text-anchor="start" font-weight="normal" font-style="normal" fill="#111" stroke="#111" stroke-width="0.5" >Perhexiline</text>
<text x="75.9" y="384.4" font-size="8.6" text-anchor="start" font-weight="normal" font-style="normal" fill="#111" stroke="#111" stroke-width="0.5" >UP</text>
<text x="196.2" y="376.2" font-size="8.6" text-anchor="end" font-weight="normal" font-style="normal" fill="#111" stroke="#111" stroke-width="0.5" >Perhexiline</text>
<text x="196.2" y="384.4" font-size="8.6" text-anchor="end" font-weight="normal" font-style="normal" fill="#111" stroke="#111" stroke-width="0.5" >DOWN</text>
<text transform="translate(49.5,300.5) rotate(-90)" font-size="8.8" text-anchor="middle" font-weight="normal" font-style="normal" fill="#111" stroke="#111" stroke-width="0.45" >Enrichment</text>
<text transform="translate(58.8,300.5) rotate(-90)" font-size="8.8" text-anchor="middle" font-weight="normal" font-style="normal" fill="#111" stroke="#111" stroke-width="0.45" >score</text>
<text transform="translate(53,354.5) rotate(-90)" font-size="8.8" text-anchor="middle" font-weight="normal" font-style="normal" fill="#111" stroke="#111" stroke-width="0.45" >t−score</text>
<line x1="76.1" x2="76.1" y1="405" y2="471.5" stroke="#222" stroke-width="0.9"/>
<line x1="76.1" x2="196.3" y1="412.8" y2="412.8" stroke="#222" stroke-width="0.9"/>
<line x1="76.1" x2="77.6" y1="412.2" y2="412.2" stroke="#222" stroke-width="0.6"/>
<text x="74.3" y="414.61199999999997" font-size="6.7" text-anchor="end" font-weight="normal" font-style="normal" fill="#111" stroke="#111" stroke-width="0.42" >0</text>
<line x1="76.1" x2="77.6" y1="428.8" y2="428.8" stroke="#222" stroke-width="0.6"/>
<text x="74.3" y="431.212" font-size="6.7" text-anchor="end" font-weight="normal" font-style="normal" fill="#111" stroke="#111" stroke-width="0.42" >-0.2</text>
<line x1="76.1" x2="77.6" y1="445.6" y2="445.6" stroke="#222" stroke-width="0.6"/>
<text x="74.3" y="448.012" font-size="6.7" text-anchor="end" font-weight="normal" font-style="normal" fill="#111" stroke="#111" stroke-width="0.42" >-0.4</text>
<line x1="76.1" x2="77.6" y1="461.8" y2="461.8" stroke="#222" stroke-width="0.6"/>
<text x="74.3" y="464.212" font-size="6.7" text-anchor="end" font-weight="normal" font-style="normal" fill="#111" stroke="#111" stroke-width="0.42" >-0.6</text>
<line x1="184.4" x2="184.4" y1="415" y2="465.6" stroke="#555" stroke-width="1.3" stroke-dasharray="5,2.6"/>
<path d="M75.92,412.16 L76.30,412.53 L76.83,412.50 L77.45,412.02 L78.13,412.20 L78.80,412.31 L79.42,412.27 L80.03,411.84 L80.65,411.53 L81.27,411.24 L81.88,411.35 L82.43,410.74 L82.92,410.74 L83.33,410.36 L83.67,410.40 L83.97,410.48 L84.24,409.98 L84.51,410.29 L84.81,410.16 L85.12,410.47 L85.43,410.59 L85.73,410.61 L86.05,411.22 L86.36,411.28 L86.69,411.26 L87.00,411.41 L87.27,411.79 L87.55,411.88 L87.88,411.92 L88.30,411.97 L88.85,412.23 L89.53,412.38 L90.30,412.79 L91.17,412.53 L92.12,413.11 L93.14,413.44 L94.23,413.47 L95.42,414.37 L96.73,414.86 L98.10,415.62 L99.52,416.04 L100.93,416.85 L102.31,417.64 L103.59,418.72 L104.80,419.29 L106.01,419.98 L107.30,420.90 L108.73,421.82 L110.39,422.85 L112.32,424.22 L114.48,426.11 L116.78,427.47 L119.16,429.47 L121.54,430.79 L123.85,432.39 L126.09,434.02 L128.34,435.36 L130.58,436.93 L132.83,438.70 L135.07,440.12 L137.31,441.55 L139.56,442.91 L141.80,444.51 L144.04,445.97 L146.29,447.21 L148.53,448.71 L150.78,449.78 L153.02,451.52 L155.26,452.79 L157.51,454.34 L159.75,455.64 L161.99,456.76 L164.24,457.86 L166.56,459.46 L168.97,460.19 L171.39,461.43 L173.71,462.35 L175.85,463.19 L177.70,464.13 L179.24,464.78 L180.54,464.79 L181.66,465.25 L182.64,465.24 L183.54,465.51 L184.43,465.57 L185.27,465.58 L186.01,465.66 L186.67,465.73 L187.28,466.09 L187.88,465.89 L188.47,465.75 L189.07,466.10 L189.65,466.14 L190.20,465.85 L190.73,465.65 L191.23,465.60 L191.70,465.42 L192.14,465.42 L192.54,465.19 L192.91,465.12 L193.26,464.89 L193.57,464.65 L193.86,464.20 L194.10,463.33 L194.30,462.24 L194.48,461.15 L194.63,459.94 L194.78,458.39 L194.93,456.66 L195.08,454.52 L195.22,452.35 L195.35,450.21 L195.48,447.16 L195.61,444.64 L195.74,441.99 L195.88,439.15 L196.04,435.50 L196.19,432.14 L196.34,428.94 L196.46,426.31 L196.55,424.43" fill="none" stroke="#393c9e" stroke-width="1.75" stroke-linejoin="round" stroke-linecap="round"/>
<rect x="76.1" y="472.9" width="120.20000000000002" height="6.2000000000000455" fill="#fdeeee"/>
<line x1="76.70" x2="76.70" y1="472.9" y2="479.1" stroke="#d6404a" stroke-width="1.0" stroke-opacity="0.8"/>
<line x1="78.05" x2="78.05" y1="472.9" y2="479.1" stroke="#d6404a" stroke-width="1.0" stroke-opacity="1"/>
<line x1="79.40" x2="79.40" y1="472.9" y2="479.1" stroke="#d6404a" stroke-width="1.0" stroke-opacity="1"/>
<line x1="80.75" x2="80.75" y1="472.9" y2="479.1" stroke="#d6404a" stroke-width="0.8" stroke-opacity="0.9"/>
<line x1="84.80" x2="84.80" y1="472.9" y2="479.1" stroke="#d6404a" stroke-width="1.0" stroke-opacity="0.9"/>
<line x1="86.15" x2="86.15" y1="472.9" y2="479.1" stroke="#d6404a" stroke-width="0.8" stroke-opacity="0.8"/>
<line x1="87.50" x2="87.50" y1="472.9" y2="479.1" stroke="#d6404a" stroke-width="0.8" stroke-opacity="1"/>
<line x1="88.85" x2="88.85" y1="472.9" y2="479.1" stroke="#d6404a" stroke-width="1.0" stroke-opacity="0.8"/>
<line x1="90.20" x2="90.20" y1="472.9" y2="479.1" stroke="#d6404a" stroke-width="0.8" stroke-opacity="0.8"/>
<line x1="91.55" x2="91.55" y1="472.9" y2="479.1" stroke="#d6404a" stroke-width="0.8" stroke-opacity="1"/>
<line x1="94.25" x2="94.25" y1="472.9" y2="479.1" stroke="#d6404a" stroke-width="1.0" stroke-opacity="0.8"/>
<line x1="95.60" x2="95.60" y1="472.9" y2="479.1" stroke="#d6404a" stroke-width="1.0" stroke-opacity="1"/>
<line x1="96.95" x2="96.95" y1="472.9" y2="479.1" stroke="#d6404a" stroke-width="0.8" stroke-opacity="0.8"/>
<line x1="98.30" x2="98.30" y1="472.9" y2="479.1" stroke="#d6404a" stroke-width="0.8" stroke-opacity="0.9"/>
<line x1="99.65" x2="99.65" y1="472.9" y2="479.1" stroke="#d6404a" stroke-width="0.8" stroke-opacity="0.8"/>
<line x1="101.00" x2="101.00" y1="472.9" y2="479.1" stroke="#d6404a" stroke-width="1.0" stroke-opacity="0.9"/>
<line x1="103.70" x2="103.70" y1="472.9" y2="479.1" stroke="#d6404a" stroke-width="0.8" stroke-opacity="0.9"/>
<line x1="105.05" x2="105.05" y1="472.9" y2="479.1" stroke="#d6404a" stroke-width="0.8" stroke-opacity="0.8"/>
<line x1="107.75" x2="107.75" y1="472.9" y2="479.1" stroke="#d6404a" stroke-width="1.0" stroke-opacity="0.8"/>
<line x1="109.10" x2="109.10" y1="472.9" y2="479.1" stroke="#d6404a" stroke-width="1.0" stroke-opacity="1"/>
<line x1="110.45" x2="110.45" y1="472.9" y2="479.1" stroke="#d6404a" stroke-width="0.8" stroke-opacity="0.9"/>
<line x1="111.80" x2="111.80" y1="472.9" y2="479.1" stroke="#d6404a" stroke-width="1.0" stroke-opacity="0.9"/>
<line x1="114.50" x2="114.50" y1="472.9" y2="479.1" stroke="#d6404a" stroke-width="1.0" stroke-opacity="1"/>
<line x1="122.60" x2="122.60" y1="472.9" y2="479.1" stroke="#d6404a" stroke-width="0.8" stroke-opacity="0.9"/>
<line x1="125.30" x2="125.30" y1="472.9" y2="479.1" stroke="#d6404a" stroke-width="0.8" stroke-opacity="0.8"/>
<line x1="126.65" x2="126.65" y1="472.9" y2="479.1" stroke="#d6404a" stroke-width="1.0" stroke-opacity="0.9"/>
<line x1="128.00" x2="128.00" y1="472.9" y2="479.1" stroke="#d6404a" stroke-width="1.0" stroke-opacity="1"/>
<line x1="129.35" x2="129.35" y1="472.9" y2="479.1" stroke="#d6404a" stroke-width="0.8" stroke-opacity="0.9"/>
<line x1="134.75" x2="134.75" y1="472.9" y2="479.1" stroke="#d6404a" stroke-width="1.0" stroke-opacity="0.8"/>
<line x1="138.80" x2="138.80" y1="472.9" y2="479.1" stroke="#d6404a" stroke-width="0.8" stroke-opacity="1"/>
<line x1="140.15" x2="140.15" y1="472.9" y2="479.1" stroke="#d6404a" stroke-width="1.0" stroke-opacity="0.9"/>
<line x1="148.25" x2="148.25" y1="472.9" y2="479.1" stroke="#d6404a" stroke-width="0.8" stroke-opacity="1"/>
<line x1="152.30" x2="152.30" y1="472.9" y2="479.1" stroke="#d6404a" stroke-width="1.0" stroke-opacity="0.9"/>
<line x1="155.00" x2="155.00" y1="472.9" y2="479.1" stroke="#d6404a" stroke-width="0.8" stroke-opacity="0.8"/>
<line x1="156.35" x2="156.35" y1="472.9" y2="479.1" stroke="#d6404a" stroke-width="0.8" stroke-opacity="0.9"/>
<line x1="157.70" x2="157.70" y1="472.9" y2="479.1" stroke="#d6404a" stroke-width="0.8" stroke-opacity="1"/>
<line x1="160.40" x2="160.40" y1="472.9" y2="479.1" stroke="#d6404a" stroke-width="1.0" stroke-opacity="0.9"/>
<line x1="163.10" x2="163.10" y1="472.9" y2="479.1" stroke="#d6404a" stroke-width="0.8" stroke-opacity="1"/>
<line x1="164.45" x2="164.45" y1="472.9" y2="479.1" stroke="#d6404a" stroke-width="1.0" stroke-opacity="1"/>
<line x1="167.15" x2="167.15" y1="472.9" y2="479.1" stroke="#d6404a" stroke-width="1.0" stroke-opacity="1"/>
<line x1="168.50" x2="168.50" y1="472.9" y2="479.1" stroke="#d6404a" stroke-width="0.8" stroke-opacity="1"/>
<line x1="169.85" x2="169.85" y1="472.9" y2="479.1" stroke="#d6404a" stroke-width="1.0" stroke-opacity="0.8"/>
<line x1="171.20" x2="171.20" y1="472.9" y2="479.1" stroke="#d6404a" stroke-width="1.0" stroke-opacity="0.8"/>
<line x1="172.55" x2="172.55" y1="472.9" y2="479.1" stroke="#d6404a" stroke-width="0.8" stroke-opacity="0.9"/>
<line x1="173.90" x2="173.90" y1="472.9" y2="479.1" stroke="#d6404a" stroke-width="0.8" stroke-opacity="1"/>
<line x1="175.25" x2="175.25" y1="472.9" y2="479.1" stroke="#d6404a" stroke-width="1.0" stroke-opacity="0.9"/>
<line x1="177.95" x2="177.95" y1="472.9" y2="479.1" stroke="#d6404a" stroke-width="1.0" stroke-opacity="1"/>
<line x1="179.30" x2="179.30" y1="472.9" y2="479.1" stroke="#d6404a" stroke-width="1.0" stroke-opacity="0.9"/>
<line x1="180.65" x2="180.65" y1="472.9" y2="479.1" stroke="#d6404a" stroke-width="0.8" stroke-opacity="0.8"/>
<line x1="182.00" x2="182.00" y1="472.9" y2="479.1" stroke="#d6404a" stroke-width="0.8" stroke-opacity="0.9"/>
<line x1="183.35" x2="183.35" y1="472.9" y2="479.1" stroke="#d6404a" stroke-width="1.0" stroke-opacity="0.9"/>
<line x1="184.70" x2="184.70" y1="472.9" y2="479.1" stroke="#d6404a" stroke-width="1.0" stroke-opacity="0.9"/>
<line x1="186.05" x2="186.05" y1="472.9" y2="479.1" stroke="#d6404a" stroke-width="1.0" stroke-opacity="0.8"/>
<line x1="187.40" x2="187.40" y1="472.9" y2="479.1" stroke="#d6404a" stroke-width="1.0" stroke-opacity="1"/>
<line x1="188.75" x2="188.75" y1="472.9" y2="479.1" stroke="#d6404a" stroke-width="0.8" stroke-opacity="0.9"/>
<line x1="190.10" x2="190.10" y1="472.9" y2="479.1" stroke="#d6404a" stroke-width="1.0" stroke-opacity="0.9"/>
<line x1="191.45" x2="191.45" y1="472.9" y2="479.1" stroke="#d6404a" stroke-width="0.8" stroke-opacity="1"/>
<line x1="192.80" x2="192.80" y1="472.9" y2="479.1" stroke="#d6404a" stroke-width="0.8" stroke-opacity="0.8"/>
<line x1="194.15" x2="194.15" y1="472.9" y2="479.1" stroke="#d6404a" stroke-width="0.8" stroke-opacity="0.9"/>
<line x1="195.50" x2="195.50" y1="472.9" y2="479.1" stroke="#d6404a" stroke-width="1.0" stroke-opacity="0.8"/>
<rect x="76.1" y="481" width="120.20000000000002" height="18.80000000000001" fill="#fff" stroke="none"/>
<path d="M76.1,490.4 L76.10,481.00 L77.10,481.00 L78.10,481.00 L79.10,482.66 L80.11,484.41 L81.11,485.54 L82.11,486.32 L83.11,486.90 L84.11,487.34 L85.11,487.69 L86.12,487.97 L87.12,488.20 L88.12,488.39 L89.12,488.55 L90.12,488.69 L91.12,488.81 L92.13,488.92 L93.13,489.01 L94.13,489.09 L95.13,489.17 L96.13,489.23 L97.13,489.29 L98.14,489.35 L99.14,489.40 L100.14,489.45 L101.14,489.49 L102.14,489.53 L103.14,489.57 L104.15,489.61 L105.15,489.64 L106.15,489.68 L107.15,489.71 L108.15,489.74 L109.16,489.77 L110.16,489.80 L111.16,489.82 L112.16,489.85 L113.16,489.88 L114.16,489.90 L115.16,489.93 L116.17,489.95 L117.17,489.98 L118.17,490.00 L119.17,490.02 L120.17,490.05 L121.17,490.07 L122.18,490.09 L123.18,490.12 L124.18,490.14 L125.18,490.16 L126.18,490.18 L127.19,490.20 L128.19,490.23 L129.19,490.25 L130.19,490.27 L131.19,490.29 L132.19,490.31 L133.19,490.34 L134.20,490.36 L135.20,490.38 L136.20,490.40 L137.20,490.42 L138.20,490.44 L139.21,490.46 L140.21,490.49 L141.21,490.51 L142.21,490.53 L143.21,490.55 L144.21,490.57 L145.22,490.60 L146.22,490.62 L147.22,490.64 L148.22,490.66 L149.22,490.68 L150.22,490.71 L151.23,490.73 L152.23,490.75 L153.23,490.78 L154.23,490.80 L155.23,490.82 L156.23,490.85 L157.24,490.87 L158.24,490.90 L159.24,490.92 L160.24,490.95 L161.24,490.98 L162.24,491.00 L163.25,491.03 L164.25,491.06 L165.25,491.09 L166.25,491.12 L167.25,491.16 L168.25,491.19 L169.25,491.23 L170.26,491.27 L171.26,491.31 L172.26,491.35 L173.26,491.40 L174.26,491.45 L175.26,491.51 L176.27,491.57 L177.27,491.63 L178.27,491.71 L179.27,491.79 L180.27,491.88 L181.28,491.99 L182.28,492.11 L183.28,492.25 L184.28,492.41 L185.28,492.60 L186.28,492.83 L187.29,493.11 L188.29,493.46 L189.29,493.90 L190.29,494.48 L191.29,495.26 L192.29,496.39 L193.30,498.14 L194.30,499.80 L195.30,499.80 L196.30,499.80 L196.3,490.4 Z" fill="#38755a" stroke="#16241c" stroke-width="0.55"/>
<rect x="76.1" y="481" width="120.20000000000002" height="18.80000000000001" fill="none" stroke="#111" stroke-width="0.9"/>
<text x="74.3" y="485.012" font-size="6.7" text-anchor="end" font-weight="normal" font-style="normal" fill="#111" stroke="#111" stroke-width="0.42" >10</text>
<text x="74.3" y="500.012" font-size="6.7" text-anchor="end" font-weight="normal" font-style="normal" fill="#111" stroke="#111" stroke-width="0.42" >-10</text>
<text x="196.0" y="403" font-size="8.6" text-anchor="end" font-weight="normal" font-style="normal" fill="#111" stroke="#111" stroke-width="0.5" >Hes1 KO DOWN</text>
<text x="196.0" y="412" font-size="8.6" text-anchor="end" font-weight="normal" font-style="normal" fill="#111" stroke="#111" stroke-width="0.5" >P&lt;0.001</text>
<text x="76.1" y="509.6" font-size="8.6" text-anchor="start" font-weight="normal" font-style="normal" fill="#111" stroke="#111" stroke-width="0.5" >Perhexiline</text>
<text x="76.1" y="517.6" font-size="8.6" text-anchor="start" font-weight="normal" font-style="normal" fill="#111" stroke="#111" stroke-width="0.5" >UP</text>
<text x="196.3" y="509.6" font-size="8.6" text-anchor="end" font-weight="normal" font-style="normal" fill="#111" stroke="#111" stroke-width="0.5" >Perhexiline</text>
<text x="196.3" y="517.6" font-size="8.6" text-anchor="end" font-weight="normal" font-style="normal" fill="#111" stroke="#111" stroke-width="0.5" >DOWN</text>
<text transform="translate(49.2,430.7) rotate(-90)" font-size="8.8" text-anchor="middle" font-weight="normal" font-style="normal" fill="#111" stroke="#111" stroke-width="0.45" >Enrichment</text>
<text transform="translate(58,430.7) rotate(-90)" font-size="8.8" text-anchor="middle" font-weight="normal" font-style="normal" fill="#111" stroke="#111" stroke-width="0.45" >score</text>
<text transform="translate(53.8,486) rotate(-90)" font-size="8.8" text-anchor="middle" font-weight="normal" font-style="normal" fill="#111" stroke="#111" stroke-width="0.45" >t−score</text>
<line x1="269.8" x2="269.8" y1="288.8" y2="341.8" stroke="#222" stroke-width="0.9"/>
<line x1="269.8" x2="367" y1="329.5" y2="329.5" stroke="#222" stroke-width="0.9"/>
<line x1="269.8" x2="271.3" y1="293.6" y2="293.6" stroke="#222" stroke-width="0.6"/>
<text x="268.0" y="295.47200000000004" font-size="5.2" text-anchor="end" font-weight="bold" font-style="normal" fill="#111" stroke="#111" stroke-width="0.3" >0.3</text>
<line x1="269.8" x2="271.3" y1="305.3" y2="305.3" stroke="#222" stroke-width="0.6"/>
<text x="268.0" y="307.172" font-size="5.2" text-anchor="end" font-weight="bold" font-style="normal" fill="#111" stroke="#111" stroke-width="0.3" >0.2</text>
<line x1="269.8" x2="271.3" y1="316.7" y2="316.7" stroke="#222" stroke-width="0.6"/>
<text x="268.0" y="318.572" font-size="5.2" text-anchor="end" font-weight="bold" font-style="normal" fill="#111" stroke="#111" stroke-width="0.3" >0.1</text>
<line x1="269.8" x2="271.3" y1="328.9" y2="328.9" stroke="#222" stroke-width="0.6"/>
<text x="268.0" y="330.772" font-size="5.2" text-anchor="end" font-weight="bold" font-style="normal" fill="#111" stroke="#111" stroke-width="0.3" >0</text>
<line x1="269.8" x2="271.3" y1="341.2" y2="341.2" stroke="#222" stroke-width="0.6"/>
<text x="268.0" y="343.072" font-size="5.2" text-anchor="end" font-weight="bold" font-style="normal" fill="#111" stroke="#111" stroke-width="0.3" >-0.1</text>
<line x1="276.9" x2="276.9" y1="301" y2="329.5" stroke="#555" stroke-width="1.3" stroke-dasharray="5,2.6"/>
<line x1="352.9" x2="352.9" y1="329.5" y2="335" stroke="#222" stroke-width="0.8"/>
<path d="M269.40,329.32 L269.45,328.13 L269.52,326.62 L269.61,324.25 L269.71,322.13 L269.81,320.20 L269.91,318.54 L270.02,316.62 L270.15,314.34 L270.28,312.12 L270.41,310.31 L270.56,308.57 L270.70,306.74 L270.86,305.01 L271.03,303.47 L271.22,301.98 L271.44,300.53 L271.68,300.22 L271.93,299.18 L272.19,298.81 L272.44,298.13 L272.68,297.90 L272.92,297.14 L273.17,296.84 L273.41,296.47 L273.65,295.95 L273.89,295.90 L274.12,295.05 L274.35,294.20 L274.60,293.56 L274.87,293.30 L275.17,292.20 L275.49,291.14 L275.83,290.72 L276.17,289.96 L276.49,289.86 L276.78,289.32 L277.06,289.99 L277.33,290.81 L277.61,291.39 L277.90,291.83 L278.19,291.42 L278.47,291.74 L278.76,291.69 L279.10,291.76 L279.52,292.27 L280.04,291.87 L280.63,291.87 L281.28,291.21 L281.93,291.32 L282.56,290.90 L283.16,290.78 L283.75,291.26 L284.35,291.53 L284.96,291.06 L285.60,291.40 L286.27,291.25 L286.98,290.67 L287.70,290.45 L288.39,290.01 L289.04,289.91 L289.61,289.98 L290.13,290.35 L290.63,290.59 L291.13,290.50 L291.67,290.59 L292.27,291.02 L292.90,291.50 L293.54,291.41 L294.16,291.75 L294.70,291.94 L295.11,292.58 L295.39,292.62 L295.68,292.51 L296.08,292.84 L296.73,293.49 L297.65,294.18 L298.77,294.92 L300.03,295.31 L301.39,296.22 L302.80,297.55 L304.34,298.41 L306.04,299.51 L307.78,300.78 L309.44,302.52 L310.90,303.35 L312.05,304.75 L312.97,305.79 L313.82,307.06 L314.77,308.71 L315.96,310.31 L317.50,311.66 L319.28,313.58 L321.16,316.06 L322.99,317.69 L324.62,319.27 L326.01,321.28 L327.26,322.12 L328.43,323.43 L329.58,324.11 L330.77,325.42 L332.00,326.12 L333.23,326.87 L334.46,327.69 L335.69,328.96 L336.92,329.87 L338.15,330.88 L339.38,331.10 L340.62,332.23 L341.85,332.75 L343.08,333.46 L344.36,333.80 L345.69,334.44 L346.99,335.09 L348.20,335.72 L349.23,335.34 L350.06,335.51 L350.73,335.37 L351.29,335.06 L351.80,334.20 L352.31,334.12 L352.79,335.11 L353.22,335.87 L353.62,336.37 L354.03,336.78 L354.46,337.76 L354.92,337.28 L355.39,337.23 L355.88,336.48 L356.39,336.11 L356.92,335.38 L357.51,335.91 L358.15,335.86 L358.81,336.37 L359.43,336.91 L360.00,336.77 L360.48,335.70 L360.91,334.75 L361.31,333.74 L361.72,332.75 L362.15,331.84 L362.64,331.16 L363.15,330.94 L363.66,331.05 L364.16,330.96 L364.62,330.06 L365.05,330.00 L365.49,329.64 L365.89,328.64 L366.22,328.77 L366.46,328.23" fill="none" stroke="#393c9e" stroke-width="1.75" stroke-linejoin="round" stroke-linecap="round"/>
<rect x="269.8" y="343.3" width="97.19999999999999" height="5.5" fill="#fbe6e6"/>
<line x1="270.40" x2="270.40" y1="343.3" y2="348.8" stroke="#d23c44" stroke-width="1.55" stroke-opacity="1"/>
<line x1="271.95" x2="271.95" y1="343.3" y2="348.8" stroke="#d23c44" stroke-width="1.55" stroke-opacity="1"/>
<line x1="273.50" x2="273.50" y1="343.3" y2="348.8" stroke="#d23c44" stroke-width="1.3" stroke-opacity="0.85"/>
<line x1="275.05" x2="275.05" y1="343.3" y2="348.8" stroke="#d23c44" stroke-width="1.55" stroke-opacity="1"/>
<line x1="276.60" x2="276.60" y1="343.3" y2="348.8" stroke="#d23c44" stroke-width="1.3" stroke-opacity="0.85"/>
<line x1="278.15" x2="278.15" y1="343.3" y2="348.8" stroke="#d23c44" stroke-width="1.55" stroke-opacity="1"/>
<line x1="279.70" x2="279.70" y1="343.3" y2="348.8" stroke="#d23c44" stroke-width="1.3" stroke-opacity="1"/>
<line x1="281.25" x2="281.25" y1="343.3" y2="348.8" stroke="#d23c44" stroke-width="1.3" stroke-opacity="1"/>
<line x1="282.80" x2="282.80" y1="343.3" y2="348.8" stroke="#d23c44" stroke-width="1.0" stroke-opacity="1"/>
<line x1="284.35" x2="284.35" y1="343.3" y2="348.8" stroke="#d23c44" stroke-width="1.0" stroke-opacity="1"/>
<line x1="285.90" x2="285.90" y1="343.3" y2="348.8" stroke="#d23c44" stroke-width="1.55" stroke-opacity="0.85"/>
<line x1="287.45" x2="287.45" y1="343.3" y2="348.8" stroke="#d23c44" stroke-width="1.0" stroke-opacity="0.85"/>
<line x1="290.55" x2="290.55" y1="343.3" y2="348.8" stroke="#d23c44" stroke-width="1.55" stroke-opacity="0.85"/>
<line x1="292.10" x2="292.10" y1="343.3" y2="348.8" stroke="#d23c44" stroke-width="1.55" stroke-opacity="1"/>
<line x1="293.65" x2="293.65" y1="343.3" y2="348.8" stroke="#d23c44" stroke-width="1.0" stroke-opacity="0.85"/>
<line x1="295.20" x2="295.20" y1="343.3" y2="348.8" stroke="#d23c44" stroke-width="1.55" stroke-opacity="0.85"/>
<line x1="296.75" x2="296.75" y1="343.3" y2="348.8" stroke="#d23c44" stroke-width="1.3" stroke-opacity="1"/>
<line x1="301.40" x2="301.40" y1="343.3" y2="348.8" stroke="#d23c44" stroke-width="1.55" stroke-opacity="0.85"/>
<line x1="302.95" x2="302.95" y1="343.3" y2="348.8" stroke="#d23c44" stroke-width="1.3" stroke-opacity="1"/>
<line x1="304.50" x2="304.50" y1="343.3" y2="348.8" stroke="#d23c44" stroke-width="1.55" stroke-opacity="1"/>
<line x1="307.60" x2="307.60" y1="343.3" y2="348.8" stroke="#d23c44" stroke-width="1.3" stroke-opacity="1"/>
<line x1="309.15" x2="309.15" y1="343.3" y2="348.8" stroke="#d23c44" stroke-width="1.3" stroke-opacity="0.85"/>
<line x1="310.70" x2="310.70" y1="343.3" y2="348.8" stroke="#d23c44" stroke-width="1.0" stroke-opacity="0.85"/>
<line x1="312.25" x2="312.25" y1="343.3" y2="348.8" stroke="#d23c44" stroke-width="1.0" stroke-opacity="1"/>
<line x1="313.80" x2="313.80" y1="343.3" y2="348.8" stroke="#d23c44" stroke-width="1.3" stroke-opacity="0.85"/>
<line x1="315.35" x2="315.35" y1="343.3" y2="348.8" stroke="#d23c44" stroke-width="1.3" stroke-opacity="0.85"/>
<line x1="316.90" x2="316.90" y1="343.3" y2="348.8" stroke="#d23c44" stroke-width="1.0" stroke-opacity="1"/>
<line x1="320.00" x2="320.00" y1="343.3" y2="348.8" stroke="#d23c44" stroke-width="1.55" stroke-opacity="0.85"/>
<line x1="321.55" x2="321.55" y1="343.3" y2="348.8" stroke="#d23c44" stroke-width="1.55" stroke-opacity="1"/>
<line x1="323.10" x2="323.10" y1="343.3" y2="348.8" stroke="#d23c44" stroke-width="1.3" stroke-opacity="1"/>
<line x1="324.65" x2="324.65" y1="343.3" y2="348.8" stroke="#d23c44" stroke-width="1.3" stroke-opacity="0.85"/>
<line x1="326.20" x2="326.20" y1="343.3" y2="348.8" stroke="#d23c44" stroke-width="1.0" stroke-opacity="1"/>
<line x1="327.75" x2="327.75" y1="343.3" y2="348.8" stroke="#d23c44" stroke-width="1.55" stroke-opacity="0.85"/>
<line x1="329.30" x2="329.30" y1="343.3" y2="348.8" stroke="#d23c44" stroke-width="1.55" stroke-opacity="1"/>
<line x1="330.85" x2="330.85" y1="343.3" y2="348.8" stroke="#d23c44" stroke-width="1.55" stroke-opacity="1"/>
<line x1="332.40" x2="332.40" y1="343.3" y2="348.8" stroke="#d23c44" stroke-width="1.55" stroke-opacity="0.85"/>
<line x1="333.95" x2="333.95" y1="343.3" y2="348.8" stroke="#d23c44" stroke-width="1.3" stroke-opacity="1"/>
<line x1="335.50" x2="335.50" y1="343.3" y2="348.8" stroke="#d23c44" stroke-width="1.3" stroke-opacity="0.85"/>
<line x1="337.05" x2="337.05" y1="343.3" y2="348.8" stroke="#d23c44" stroke-width="1.0" stroke-opacity="0.85"/>
<line x1="338.60" x2="338.60" y1="343.3" y2="348.8" stroke="#d23c44" stroke-width="1.0" stroke-opacity="1"/>
<line x1="340.15" x2="340.15" y1="343.3" y2="348.8" stroke="#d23c44" stroke-width="1.55" stroke-opacity="1"/>
<line x1="341.70" x2="341.70" y1="343.3" y2="348.8" stroke="#d23c44" stroke-width="1.3" stroke-opacity="1"/>
<line x1="343.25" x2="343.25" y1="343.3" y2="348.8" stroke="#d23c44" stroke-width="1.0" stroke-opacity="1"/>
<line x1="344.80" x2="344.80" y1="343.3" y2="348.8" stroke="#d23c44" stroke-width="1.3" stroke-opacity="0.85"/>
<line x1="346.35" x2="346.35" y1="343.3" y2="348.8" stroke="#d23c44" stroke-width="1.0" stroke-opacity="0.85"/>
<line x1="347.90" x2="347.90" y1="343.3" y2="348.8" stroke="#d23c44" stroke-width="1.0" stroke-opacity="0.85"/>
<line x1="349.45" x2="349.45" y1="343.3" y2="348.8" stroke="#d23c44" stroke-width="1.3" stroke-opacity="1"/>
<line x1="351.00" x2="351.00" y1="343.3" y2="348.8" stroke="#d23c44" stroke-width="1.0" stroke-opacity="0.85"/>
<line x1="352.55" x2="352.55" y1="343.3" y2="348.8" stroke="#d23c44" stroke-width="1.55" stroke-opacity="1"/>
<line x1="354.10" x2="354.10" y1="343.3" y2="348.8" stroke="#d23c44" stroke-width="1.55" stroke-opacity="1"/>
<line x1="355.65" x2="355.65" y1="343.3" y2="348.8" stroke="#d23c44" stroke-width="1.55" stroke-opacity="1"/>
<line x1="357.20" x2="357.20" y1="343.3" y2="348.8" stroke="#d23c44" stroke-width="1.0" stroke-opacity="0.85"/>
<line x1="358.75" x2="358.75" y1="343.3" y2="348.8" stroke="#d23c44" stroke-width="1.0" stroke-opacity="1"/>
<line x1="360.30" x2="360.30" y1="343.3" y2="348.8" stroke="#d23c44" stroke-width="1.0" stroke-opacity="0.85"/>
<line x1="363.40" x2="363.40" y1="343.3" y2="348.8" stroke="#d23c44" stroke-width="1.55" stroke-opacity="0.85"/>
<line x1="364.95" x2="364.95" y1="343.3" y2="348.8" stroke="#d23c44" stroke-width="1.0" stroke-opacity="1"/>
<line x1="366.50" x2="366.50" y1="343.3" y2="348.8" stroke="#d23c44" stroke-width="1.0" stroke-opacity="1"/>
<rect x="269.8" y="349.5" width="97.19999999999999" height="16.30000000000001" fill="#fff" stroke="none"/>
<path d="M269.8,357.65 L269.80,349.50 L270.61,349.50 L271.42,350.16 L272.23,351.41 L273.04,352.24 L273.85,352.85 L274.66,353.33 L275.47,353.72 L276.28,354.04 L277.09,354.31 L277.90,354.55 L278.71,354.76 L279.52,354.95 L280.33,355.12 L281.14,355.27 L281.95,355.41 L282.76,355.53 L283.57,355.65 L284.38,355.75 L285.19,355.85 L286.00,355.95 L286.81,356.03 L287.62,356.11 L288.43,356.19 L289.24,356.26 L290.05,356.33 L290.86,356.39 L291.67,356.45 L292.48,356.51 L293.29,356.57 L294.10,356.62 L294.91,356.67 L295.72,356.72 L296.53,356.77 L297.34,356.81 L298.15,356.85 L298.96,356.90 L299.77,356.94 L300.58,356.97 L301.39,357.01 L302.20,357.05 L303.01,357.08 L303.82,357.12 L304.63,357.15 L305.44,357.19 L306.25,357.22 L307.06,357.25 L307.87,357.28 L308.68,357.31 L309.49,357.34 L310.30,357.37 L311.11,357.40 L311.92,357.43 L312.73,357.46 L313.54,357.49 L314.35,357.51 L315.16,357.54 L315.97,357.57 L316.78,357.60 L317.59,357.62 L318.40,357.65 L319.21,357.68 L320.02,357.70 L320.83,357.73 L321.64,357.76 L322.45,357.79 L323.26,357.81 L324.07,357.84 L324.88,357.87 L325.69,357.90 L326.50,357.93 L327.31,357.96 L328.12,357.99 L328.93,358.02 L329.74,358.05 L330.55,358.08 L331.36,358.11 L332.17,358.15 L332.98,358.18 L333.79,358.22 L334.60,358.25 L335.41,358.29 L336.22,358.33 L337.03,358.36 L337.84,358.40 L338.65,358.45 L339.46,358.49 L340.27,358.53 L341.08,358.58 L341.89,358.63 L342.70,358.68 L343.51,358.73 L344.32,358.79 L345.13,358.85 L345.94,358.91 L346.75,358.97 L347.56,359.04 L348.37,359.11 L349.18,359.19 L349.99,359.27 L350.80,359.35 L351.61,359.45 L352.42,359.55 L353.23,359.65 L354.04,359.77 L354.85,359.89 L355.66,360.03 L356.47,360.18 L357.28,360.35 L358.09,360.54 L358.90,360.75 L359.71,360.99 L360.52,361.26 L361.33,361.58 L362.14,361.97 L362.95,362.45 L363.76,363.06 L364.57,363.89 L365.38,365.14 L366.19,365.80 L367.00,365.80 L367,357.65 Z" fill="#38755a" stroke="#16241c" stroke-width="0.55"/>
<rect x="269.8" y="349.5" width="97.19999999999999" height="16.30000000000001" fill="none" stroke="#111" stroke-width="0.9"/>
<text x="268.0" y="353.072" font-size="5.2" text-anchor="end" font-weight="bold" font-style="normal" fill="#111" stroke="#111" stroke-width="0.3" >5</text>
<text x="268.0" y="365.172" font-size="5.2" text-anchor="end" font-weight="bold" font-style="normal" fill="#111" stroke="#111" stroke-width="0.3" >-5</text>
<text x="366.7" y="287.7" font-size="6.9" text-anchor="end" font-weight="normal" font-style="normal" fill="#111" stroke="#111" stroke-width="0.5" >Perhexiline UP</text>
<text x="366.7" y="294.6" font-size="6.9" text-anchor="end" font-weight="normal" font-style="normal" fill="#111" stroke="#111" stroke-width="0.5" >P=0.003</text>
<text x="269.8" y="373.6" font-size="7.1" text-anchor="start" font-weight="normal" font-style="normal" fill="#111" stroke="#111" stroke-width="0.5" >Hes1 KO</text>
<text x="269.8" y="380.6" font-size="7.1" text-anchor="start" font-weight="normal" font-style="normal" fill="#111" stroke="#111" stroke-width="0.5" >UP</text>
<text x="367" y="373.6" font-size="7.1" text-anchor="end" font-weight="normal" font-style="normal" fill="#111" stroke="#111" stroke-width="0.5" >Hes1 KO</text>
<text x="367" y="380.6" font-size="7.1" text-anchor="end" font-weight="normal" font-style="normal" fill="#111" stroke="#111" stroke-width="0.5" >DOWN</text>
<text transform="translate(245,307) rotate(-90)" font-size="9" text-anchor="middle" font-weight="normal" font-style="normal" fill="#111" stroke="#111" stroke-width="0.45" >Enrichment</text>
<text transform="translate(253.8,307) rotate(-90)" font-size="9" text-anchor="middle" font-weight="normal" font-style="normal" fill="#111" stroke="#111" stroke-width="0.45" >score</text>
<text transform="translate(249,350) rotate(-90)" font-size="9" text-anchor="middle" font-weight="normal" font-style="normal" fill="#111" stroke="#111" stroke-width="0.45" >t−score</text>
<line x1="389.4" x2="389.4" y1="290" y2="343" stroke="#222" stroke-width="0.9"/>
<line x1="389.4" x2="487" y1="297.6" y2="297.6" stroke="#222" stroke-width="0.9"/>
<line x1="389.4" x2="390.9" y1="297.6" y2="297.6" stroke="#222" stroke-width="0.6"/>
<text x="387.59999999999997" y="299.47200000000004" font-size="5.2" text-anchor="end" font-weight="bold" font-style="normal" fill="#111" stroke="#111" stroke-width="0.3" >0</text>
<line x1="389.4" x2="390.9" y1="311.6" y2="311.6" stroke="#222" stroke-width="0.6"/>
<text x="387.59999999999997" y="313.47200000000004" font-size="5.2" text-anchor="end" font-weight="bold" font-style="normal" fill="#111" stroke="#111" stroke-width="0.3" >-0.2</text>
<line x1="389.4" x2="390.9" y1="326.5" y2="326.5" stroke="#222" stroke-width="0.6"/>
<text x="387.59999999999997" y="328.372" font-size="5.2" text-anchor="end" font-weight="bold" font-style="normal" fill="#111" stroke="#111" stroke-width="0.3" >-0.4</text>
<line x1="389.4" x2="390.9" y1="342" y2="342" stroke="#222" stroke-width="0.6"/>
<text x="387.59999999999997" y="343.872" font-size="5.2" text-anchor="end" font-weight="bold" font-style="normal" fill="#111" stroke="#111" stroke-width="0.3" >-0.6</text>
<line x1="463.2" x2="463.2" y1="300" y2="338" stroke="#555" stroke-width="1.3" stroke-dasharray="5,2.6"/>
<path d="M389.78,297.35 L389.88,297.62 L390.02,297.74 L390.19,297.47 L390.38,297.20 L390.59,297.12 L390.79,296.93 L391.00,296.86 L391.21,297.01 L391.43,296.39 L391.67,296.64 L391.93,296.33 L392.21,296.90 L392.50,296.66 L392.80,297.21 L393.12,297.28 L393.46,298.15 L393.83,298.56 L394.23,298.89 L394.68,298.73 L395.17,298.83 L395.69,299.38 L396.22,299.59 L396.75,299.77 L397.27,300.09 L397.78,300.32 L398.32,300.13 L398.85,300.72 L399.37,300.88 L399.86,300.53 L400.30,300.85 L400.69,300.61 L401.02,300.90 L401.32,300.66 L401.62,300.10 L401.94,299.98 L402.33,300.49 L402.76,300.29 L403.23,300.78 L403.72,301.35 L404.24,301.71 L404.79,302.47 L405.36,302.93 L405.96,303.30 L406.56,303.52 L407.20,303.63 L407.88,303.90 L408.61,304.29 L409.41,304.40 L410.31,304.94 L411.29,306.11 L412.32,306.33 L413.39,307.39 L414.45,307.96 L415.49,308.28 L416.50,308.84 L417.51,309.20 L418.52,309.29 L419.53,309.56 L420.55,310.02 L421.56,310.84 L422.55,311.20 L423.51,312.39 L424.47,312.99 L425.46,313.40 L426.50,314.32 L427.63,315.51 L428.86,316.08 L430.18,317.09 L431.55,318.10 L432.95,319.64 L434.36,320.63 L435.73,321.32 L437.08,322.79 L438.43,323.58 L439.78,324.70 L441.13,325.85 L442.48,326.77 L443.83,327.70 L445.20,328.41 L446.61,329.20 L448.01,330.02 L449.39,330.75 L450.70,332.10 L451.92,332.88 L453.07,333.60 L454.18,334.05 L455.22,335.27 L456.19,335.97 L457.06,336.55 L457.81,336.86 L458.41,337.62 L458.86,337.74 L459.21,337.64 L459.52,337.72 L459.84,337.71 L460.24,337.81 L460.71,338.21 L461.21,337.73 L461.72,338.18 L462.24,338.26 L462.77,338.14 L463.28,337.96 L463.77,337.76 L464.25,337.47 L464.73,337.55 L465.23,337.35 L465.75,336.65 L466.32,336.69 L466.94,336.17 L467.63,336.08 L468.34,335.51 L469.05,335.50 L469.74,335.27 L470.36,335.05 L470.93,334.65 L471.45,334.24 L471.95,334.11 L472.43,333.94 L472.91,333.57 L473.40,333.59 L473.91,332.89 L474.44,332.77 L474.96,332.31 L475.47,332.36 L475.97,332.12 L476.44,331.90 L476.88,331.37 L477.31,331.29 L477.72,330.73 L478.11,330.47 L478.49,329.91 L478.87,329.99 L479.23,329.74 L479.59,329.01 L479.93,328.65 L480.26,328.78 L480.58,328.32 L480.89,327.77 L481.19,327.65 L481.47,326.95 L481.74,326.21 L482.00,325.85 L482.26,325.21 L482.51,325.20 L482.76,324.64 L483.01,324.01 L483.26,323.25 L483.49,322.80 L483.72,322.04 L483.93,321.38 L484.12,320.83 L484.30,320.26 L484.47,319.38 L484.63,319.19 L484.79,318.27 L484.94,317.72 L485.09,316.46 L485.23,315.97 L485.37,315.22 L485.50,314.33 L485.63,313.08 L485.75,312.44 L485.86,311.31 L485.97,310.32 L486.08,308.82 L486.18,307.62 L486.27,306.28 L486.36,305.28 L486.44,304.43 L486.51,303.24 L486.58,302.35 L486.65,301.59 L486.71,301.02 L486.76,300.36 L486.81,299.61 L486.85,298.89 L486.89,298.66 L486.92,298.26 L486.94,297.76 L486.96,297.41" fill="none" stroke="#393c9e" stroke-width="1.75" stroke-linejoin="round" stroke-linecap="round"/>
<rect x="389.4" y="343.8" width="97.60000000000002" height="6.0" fill="#fdeeee"/>
<line x1="395.20" x2="395.20" y1="343.8" y2="349.8" stroke="#d8444c" stroke-width="0.8" stroke-opacity="0.8"/>
<line x1="397.80" x2="397.80" y1="343.8" y2="349.8" stroke="#d8444c" stroke-width="0.8" stroke-opacity="0.6"/>
<line x1="400.40" x2="400.40" y1="343.8" y2="349.8" stroke="#d8444c" stroke-width="1.0" stroke-opacity="0.6"/>
<line x1="405.60" x2="405.60" y1="343.8" y2="349.8" stroke="#d8444c" stroke-width="0.8" stroke-opacity="0.6"/>
<line x1="408.20" x2="408.20" y1="343.8" y2="349.8" stroke="#d8444c" stroke-width="0.8" stroke-opacity="0.8"/>
<line x1="409.50" x2="409.50" y1="343.8" y2="349.8" stroke="#d8444c" stroke-width="0.8" stroke-opacity="0.8"/>
<line x1="412.10" x2="412.10" y1="343.8" y2="349.8" stroke="#d8444c" stroke-width="0.8" stroke-opacity="1"/>
<line x1="414.70" x2="414.70" y1="343.8" y2="349.8" stroke="#d8444c" stroke-width="0.8" stroke-opacity="0.6"/>
<line x1="416.00" x2="416.00" y1="343.8" y2="349.8" stroke="#d8444c" stroke-width="1.0" stroke-opacity="0.6"/>
<line x1="419.90" x2="419.90" y1="343.8" y2="349.8" stroke="#d8444c" stroke-width="1.0" stroke-opacity="0.6"/>
<line x1="426.40" x2="426.40" y1="343.8" y2="349.8" stroke="#d8444c" stroke-width="0.8" stroke-opacity="1"/>
<line x1="427.70" x2="427.70" y1="343.8" y2="349.8" stroke="#d8444c" stroke-width="0.8" stroke-opacity="0.8"/>
<line x1="429.00" x2="429.00" y1="343.8" y2="349.8" stroke="#d8444c" stroke-width="1.0" stroke-opacity="1"/>
<line x1="432.90" x2="432.90" y1="343.8" y2="349.8" stroke="#d8444c" stroke-width="1.0" stroke-opacity="1"/>
<line x1="435.50" x2="435.50" y1="343.8" y2="349.8" stroke="#d8444c" stroke-width="1.0" stroke-opacity="0.8"/>
<line x1="436.80" x2="436.80" y1="343.8" y2="349.8" stroke="#d8444c" stroke-width="1.0" stroke-opacity="1"/>
<line x1="440.70" x2="440.70" y1="343.8" y2="349.8" stroke="#d8444c" stroke-width="1.0" stroke-opacity="0.6"/>
<line x1="442.00" x2="442.00" y1="343.8" y2="349.8" stroke="#d8444c" stroke-width="1.0" stroke-opacity="0.6"/>
<line x1="443.30" x2="443.30" y1="343.8" y2="349.8" stroke="#d8444c" stroke-width="0.8" stroke-opacity="0.6"/>
<line x1="447.20" x2="447.20" y1="343.8" y2="349.8" stroke="#d8444c" stroke-width="1.0" stroke-opacity="0.6"/>
<line x1="449.80" x2="449.80" y1="343.8" y2="349.8" stroke="#d8444c" stroke-width="0.8" stroke-opacity="1"/>
<line x1="451.10" x2="451.10" y1="343.8" y2="349.8" stroke="#d8444c" stroke-width="0.8" stroke-opacity="1"/>
<line x1="453.70" x2="453.70" y1="343.8" y2="349.8" stroke="#d8444c" stroke-width="1.0" stroke-opacity="0.8"/>
<line x1="456.30" x2="456.30" y1="343.8" y2="349.8" stroke="#d8444c" stroke-width="0.8" stroke-opacity="0.8"/>
<line x1="457.60" x2="457.60" y1="343.8" y2="349.8" stroke="#d8444c" stroke-width="0.8" stroke-opacity="1"/>
<line x1="460.20" x2="460.20" y1="343.8" y2="349.8" stroke="#d8444c" stroke-width="0.8" stroke-opacity="0.8"/>
<line x1="461.50" x2="461.50" y1="343.8" y2="349.8" stroke="#d8444c" stroke-width="1.0" stroke-opacity="0.6"/>
<line x1="462.80" x2="462.80" y1="343.8" y2="349.8" stroke="#d8444c" stroke-width="1.0" stroke-opacity="0.8"/>
<line x1="464.10" x2="464.10" y1="343.8" y2="349.8" stroke="#d8444c" stroke-width="1.0" stroke-opacity="1"/>
<line x1="465.40" x2="465.40" y1="343.8" y2="349.8" stroke="#d8444c" stroke-width="0.8" stroke-opacity="0.8"/>
<line x1="469.30" x2="469.30" y1="343.8" y2="349.8" stroke="#d8444c" stroke-width="0.8" stroke-opacity="0.8"/>
<line x1="470.60" x2="470.60" y1="343.8" y2="349.8" stroke="#d8444c" stroke-width="0.8" stroke-opacity="0.6"/>
<line x1="473.20" x2="473.20" y1="343.8" y2="349.8" stroke="#d8444c" stroke-width="0.8" stroke-opacity="0.8"/>
<line x1="474.50" x2="474.50" y1="343.8" y2="349.8" stroke="#d8444c" stroke-width="0.8" stroke-opacity="0.6"/>
<line x1="475.80" x2="475.80" y1="343.8" y2="349.8" stroke="#d8444c" stroke-width="1.0" stroke-opacity="0.8"/>
<line x1="478.40" x2="478.40" y1="343.8" y2="349.8" stroke="#d8444c" stroke-width="0.8" stroke-opacity="0.8"/>
<line x1="479.70" x2="479.70" y1="343.8" y2="349.8" stroke="#d8444c" stroke-width="0.8" stroke-opacity="0.8"/>
<line x1="481.00" x2="481.00" y1="343.8" y2="349.8" stroke="#d8444c" stroke-width="1.0" stroke-opacity="0.8"/>
<line x1="482.30" x2="482.30" y1="343.8" y2="349.8" stroke="#d8444c" stroke-width="1.0" stroke-opacity="0.6"/>
<line x1="483.60" x2="483.60" y1="343.8" y2="349.8" stroke="#d8444c" stroke-width="1.0" stroke-opacity="0.8"/>
<line x1="484.90" x2="484.90" y1="343.8" y2="349.8" stroke="#d8444c" stroke-width="1.0" stroke-opacity="0.8"/>
<line x1="486.20" x2="486.20" y1="343.8" y2="349.8" stroke="#d8444c" stroke-width="1.0" stroke-opacity="1"/>
<rect x="389.4" y="350.4" width="97.60000000000002" height="15.5" fill="#fff" stroke="none"/>
<path d="M389.4,358.15 L389.40,350.40 L390.21,350.40 L391.03,351.03 L391.84,352.22 L392.65,353.01 L393.47,353.59 L394.28,354.04 L395.09,354.41 L395.91,354.72 L396.72,354.98 L397.53,355.21 L398.35,355.40 L399.16,355.58 L399.97,355.74 L400.79,355.88 L401.60,356.02 L402.41,356.14 L403.23,356.25 L404.04,356.35 L404.85,356.44 L405.67,356.53 L406.48,356.61 L407.29,356.69 L408.11,356.76 L408.92,356.83 L409.73,356.89 L410.55,356.95 L411.36,357.01 L412.17,357.07 L412.99,357.12 L413.80,357.17 L414.61,357.22 L415.43,357.27 L416.24,357.31 L417.05,357.35 L417.87,357.39 L418.68,357.43 L419.49,357.47 L420.31,357.51 L421.12,357.54 L421.93,357.58 L422.75,357.61 L423.56,357.65 L424.37,357.68 L425.19,357.71 L426.00,357.74 L426.81,357.77 L427.63,357.80 L428.44,357.83 L429.25,357.86 L430.07,357.88 L430.88,357.91 L431.69,357.94 L432.51,357.97 L433.32,357.99 L434.13,358.02 L434.95,358.05 L435.76,358.07 L436.57,358.10 L437.39,358.12 L438.20,358.15 L439.01,358.18 L439.83,358.20 L440.64,358.23 L441.45,358.25 L442.27,358.28 L443.08,358.31 L443.89,358.33 L444.71,358.36 L445.52,358.39 L446.33,358.42 L447.15,358.44 L447.96,358.47 L448.77,358.50 L449.59,358.53 L450.40,358.56 L451.21,358.59 L452.03,358.62 L452.84,358.65 L453.65,358.69 L454.47,358.72 L455.28,358.76 L456.09,358.79 L456.91,358.83 L457.72,358.87 L458.53,358.91 L459.35,358.95 L460.16,358.99 L460.97,359.03 L461.79,359.08 L462.60,359.13 L463.41,359.18 L464.23,359.23 L465.04,359.29 L465.85,359.35 L466.67,359.41 L467.48,359.47 L468.29,359.54 L469.11,359.61 L469.92,359.69 L470.73,359.77 L471.55,359.86 L472.36,359.95 L473.17,360.05 L473.99,360.16 L474.80,360.28 L475.61,360.42 L476.43,360.56 L477.24,360.72 L478.05,360.90 L478.87,361.09 L479.68,361.32 L480.49,361.58 L481.31,361.89 L482.12,362.26 L482.93,362.71 L483.75,363.29 L484.56,364.08 L485.37,365.27 L486.19,365.90 L487.00,365.90 L487,358.15 Z" fill="#38755a" stroke="#16241c" stroke-width="0.55"/>
<rect x="389.4" y="350.4" width="97.60000000000002" height="15.5" fill="none" stroke="#111" stroke-width="0.9"/>
<text x="387.59999999999997" y="354.47200000000004" font-size="5.2" text-anchor="end" font-weight="bold" font-style="normal" fill="#111" stroke="#111" stroke-width="0.3" >5</text>
<text x="387.59999999999997" y="366.272" font-size="5.2" text-anchor="end" font-weight="bold" font-style="normal" fill="#111" stroke="#111" stroke-width="0.3" >-5</text>
<text x="486.7" y="287.4" font-size="6.9" text-anchor="end" font-weight="normal" font-style="normal" fill="#111" stroke="#111" stroke-width="0.5" >Perhexiline DOWN</text>
<text x="486.7" y="294.7" font-size="6.9" text-anchor="end" font-weight="normal" font-style="normal" fill="#111" stroke="#111" stroke-width="0.5" >P&lt;0.001</text>
<text x="389.4" y="374.6" font-size="7.1" text-anchor="start" font-weight="normal" font-style="normal" fill="#111" stroke="#111" stroke-width="0.5" >Hes1 KO</text>
<text x="389.4" y="381.2" font-size="7.1" text-anchor="start" font-weight="normal" font-style="normal" fill="#111" stroke="#111" stroke-width="0.5" >UP</text>
<text x="487" y="374.6" font-size="7.1" text-anchor="end" font-weight="normal" font-style="normal" fill="#111" stroke="#111" stroke-width="0.5" >Hes1 KO</text>
<text x="487" y="381.2" font-size="7.1" text-anchor="end" font-weight="normal" font-style="normal" fill="#111" stroke="#111" stroke-width="0.5" >DOWN</text>
<text transform="translate(-100,0) rotate(-90)" font-size="8.8" text-anchor="middle" font-weight="normal" font-style="normal" fill="#111" stroke="#111" stroke-width="0.45" >Enrichment</text>
<text transform="translate(-100,0) rotate(-90)" font-size="8.8" text-anchor="middle" font-weight="normal" font-style="normal" fill="#111" stroke="#111" stroke-width="0.45" >score</text>
<text transform="translate(-100,0) rotate(-90)" font-size="8.8" text-anchor="middle" font-weight="normal" font-style="normal" fill="#111" stroke="#111" stroke-width="0.45" >t−score</text>
<line x1="270.8" x2="270.8" y1="414" y2="471.5" stroke="#222" stroke-width="0.9"/>
<line x1="270.8" x2="368.6" y1="458" y2="458" stroke="#222" stroke-width="0.9"/>
<line x1="270.8" x2="272.3" y1="417.2" y2="417.2" stroke="#222" stroke-width="0.6"/>
<text x="269.0" y="419.072" font-size="5.2" text-anchor="end" font-weight="bold" font-style="normal" fill="#111" stroke="#111" stroke-width="0.3" >0.6</text>
<line x1="270.8" x2="272.3" y1="430.5" y2="430.5" stroke="#222" stroke-width="0.6"/>
<text x="269.0" y="432.372" font-size="5.2" text-anchor="end" font-weight="bold" font-style="normal" fill="#111" stroke="#111" stroke-width="0.3" >0.4</text>
<line x1="270.8" x2="272.3" y1="444.2" y2="444.2" stroke="#222" stroke-width="0.6"/>
<text x="269.0" y="446.072" font-size="5.2" text-anchor="end" font-weight="bold" font-style="normal" fill="#111" stroke="#111" stroke-width="0.3" >0.2</text>
<line x1="270.8" x2="272.3" y1="457.6" y2="457.6" stroke="#222" stroke-width="0.6"/>
<text x="269.0" y="459.47200000000004" font-size="5.2" text-anchor="end" font-weight="bold" font-style="normal" fill="#111" stroke="#111" stroke-width="0.3" >0</text>
<line x1="270.8" x2="272.3" y1="471" y2="471" stroke="#222" stroke-width="0.6"/>
<text x="269.0" y="472.872" font-size="5.2" text-anchor="end" font-weight="bold" font-style="normal" fill="#111" stroke="#111" stroke-width="0.3" >-0.2</text>
<line x1="272.4" x2="272.4" y1="427" y2="458" stroke="#8a96c8" stroke-width="1.3" stroke-dasharray="5,2.6"/>
<line x1="359.1" x2="359.1" y1="458" y2="463.5" stroke="#222" stroke-width="0.8"/>
<path d="M271.23,429.54 L271.27,429.14 L271.32,428.38 L271.38,428.03 L271.46,427.26 L271.57,426.09 L271.69,425.97 L271.82,425.49 L271.94,424.90 L272.09,424.03 L272.28,424.03 L272.55,423.59 L272.92,423.02 L273.42,422.97 L274.03,423.64 L274.71,423.65 L275.44,423.65 L276.19,423.80 L276.92,424.02 L277.66,424.21 L278.42,424.66 L279.19,424.52 L279.98,424.55 L280.76,425.17 L281.54,425.33 L282.31,425.26 L283.08,426.06 L283.85,426.30 L284.62,426.80 L285.38,427.11 L286.15,427.54 L286.91,427.67 L287.64,427.78 L288.37,427.45 L289.12,427.83 L289.91,427.91 L290.77,428.38 L291.67,428.68 L292.59,429.54 L293.56,430.03 L294.59,430.63 L295.70,431.46 L296.92,432.32 L298.28,433.56 L299.77,434.46 L301.35,435.94 L302.96,437.01 L304.58,438.45 L306.15,439.61 L307.69,440.72 L309.23,441.95 L310.77,442.45 L312.31,443.96 L313.85,444.74 L315.38,445.81 L316.92,446.90 L318.46,448.05 L320.00,448.81 L321.54,449.87 L323.08,451.21 L324.62,451.67 L326.15,452.97 L327.69,453.91 L329.23,454.47 L330.77,455.73 L332.31,456.67 L333.85,457.72 L335.42,458.28 L337.04,459.62 L338.65,460.28 L340.23,461.16 L341.72,462.22 L343.08,462.41 L344.28,463.40 L345.36,463.80 L346.35,464.02 L347.29,464.68 L348.24,464.71 L349.23,465.14 L350.27,465.56 L351.34,466.11 L352.40,466.17 L353.45,466.68 L354.45,466.99 L355.38,467.34 L356.26,467.72 L357.09,467.58 L357.88,468.04 L358.63,467.88 L359.34,467.97 L360.00,467.79 L360.60,467.80 L361.14,467.88 L361.63,467.42 L362.11,467.20 L362.58,466.60 L363.08,466.27 L363.61,465.97 L364.16,465.86 L364.71,465.58 L365.24,465.32 L365.73,464.46 L366.15,464.36 L366.51,463.80 L366.80,462.79 L367.06,461.61 L367.28,460.90 L367.49,459.94 L367.69,459.43 L367.89,459.42 L368.08,458.88 L368.25,458.65 L368.40,458.54 L368.52,458.45 L368.62,458.08" fill="none" stroke="#393c9e" stroke-width="1.75" stroke-linejoin="round" stroke-linecap="round"/>
<rect x="270.8" y="472.8" width="97.80000000000001" height="5.399999999999977" fill="#fbe6e6"/>
<line x1="271.40" x2="271.40" y1="472.8" y2="478.2" stroke="#d23840" stroke-width="1.55" stroke-opacity="0.85"/>
<line x1="272.95" x2="272.95" y1="472.8" y2="478.2" stroke="#d23840" stroke-width="1.55" stroke-opacity="0.85"/>
<line x1="274.50" x2="274.50" y1="472.8" y2="478.2" stroke="#d23840" stroke-width="1.55" stroke-opacity="1"/>
<line x1="276.05" x2="276.05" y1="472.8" y2="478.2" stroke="#d23840" stroke-width="1.0" stroke-opacity="0.85"/>
<line x1="277.60" x2="277.60" y1="472.8" y2="478.2" stroke="#d23840" stroke-width="1.0" stroke-opacity="1"/>
<line x1="279.15" x2="279.15" y1="472.8" y2="478.2" stroke="#d23840" stroke-width="1.55" stroke-opacity="0.85"/>
<line x1="280.70" x2="280.70" y1="472.8" y2="478.2" stroke="#d23840" stroke-width="1.0" stroke-opacity="1"/>
<line x1="282.25" x2="282.25" y1="472.8" y2="478.2" stroke="#d23840" stroke-width="1.3" stroke-opacity="1"/>
<line x1="283.80" x2="283.80" y1="472.8" y2="478.2" stroke="#d23840" stroke-width="1.0" stroke-opacity="1"/>
<line x1="285.35" x2="285.35" y1="472.8" y2="478.2" stroke="#d23840" stroke-width="1.55" stroke-opacity="0.85"/>
<line x1="286.90" x2="286.90" y1="472.8" y2="478.2" stroke="#d23840" stroke-width="1.55" stroke-opacity="0.85"/>
<line x1="288.45" x2="288.45" y1="472.8" y2="478.2" stroke="#d23840" stroke-width="1.3" stroke-opacity="1"/>
<line x1="290.00" x2="290.00" y1="472.8" y2="478.2" stroke="#d23840" stroke-width="1.0" stroke-opacity="1"/>
<line x1="291.55" x2="291.55" y1="472.8" y2="478.2" stroke="#d23840" stroke-width="1.55" stroke-opacity="0.85"/>
<line x1="293.10" x2="293.10" y1="472.8" y2="478.2" stroke="#d23840" stroke-width="1.3" stroke-opacity="0.85"/>
<line x1="294.65" x2="294.65" y1="472.8" y2="478.2" stroke="#d23840" stroke-width="1.3" stroke-opacity="0.85"/>
<line x1="296.20" x2="296.20" y1="472.8" y2="478.2" stroke="#d23840" stroke-width="1.55" stroke-opacity="0.85"/>
<line x1="297.75" x2="297.75" y1="472.8" y2="478.2" stroke="#d23840" stroke-width="1.0" stroke-opacity="0.85"/>
<line x1="300.85" x2="300.85" y1="472.8" y2="478.2" stroke="#d23840" stroke-width="1.0" stroke-opacity="0.85"/>
<line x1="302.40" x2="302.40" y1="472.8" y2="478.2" stroke="#d23840" stroke-width="1.0" stroke-opacity="1"/>
<line x1="303.95" x2="303.95" y1="472.8" y2="478.2" stroke="#d23840" stroke-width="1.0" stroke-opacity="1"/>
<line x1="305.50" x2="305.50" y1="472.8" y2="478.2" stroke="#d23840" stroke-width="1.0" stroke-opacity="0.85"/>
<line x1="307.05" x2="307.05" y1="472.8" y2="478.2" stroke="#d23840" stroke-width="1.55" stroke-opacity="0.85"/>
<line x1="308.60" x2="308.60" y1="472.8" y2="478.2" stroke="#d23840" stroke-width="1.0" stroke-opacity="1"/>
<line x1="310.15" x2="310.15" y1="472.8" y2="478.2" stroke="#d23840" stroke-width="1.55" stroke-opacity="1"/>
<line x1="311.70" x2="311.70" y1="472.8" y2="478.2" stroke="#d23840" stroke-width="1.3" stroke-opacity="0.85"/>
<line x1="313.25" x2="313.25" y1="472.8" y2="478.2" stroke="#d23840" stroke-width="1.0" stroke-opacity="0.85"/>
<line x1="314.80" x2="314.80" y1="472.8" y2="478.2" stroke="#d23840" stroke-width="1.55" stroke-opacity="0.85"/>
<line x1="316.35" x2="316.35" y1="472.8" y2="478.2" stroke="#d23840" stroke-width="1.3" stroke-opacity="0.85"/>
<line x1="319.45" x2="319.45" y1="472.8" y2="478.2" stroke="#d23840" stroke-width="1.55" stroke-opacity="0.85"/>
<line x1="321.00" x2="321.00" y1="472.8" y2="478.2" stroke="#d23840" stroke-width="1.55" stroke-opacity="1"/>
<line x1="322.55" x2="322.55" y1="472.8" y2="478.2" stroke="#d23840" stroke-width="1.0" stroke-opacity="0.85"/>
<line x1="325.65" x2="325.65" y1="472.8" y2="478.2" stroke="#d23840" stroke-width="1.55" stroke-opacity="0.85"/>
<line x1="327.20" x2="327.20" y1="472.8" y2="478.2" stroke="#d23840" stroke-width="1.3" stroke-opacity="1"/>
<line x1="328.75" x2="328.75" y1="472.8" y2="478.2" stroke="#d23840" stroke-width="1.3" stroke-opacity="1"/>
<line x1="331.85" x2="331.85" y1="472.8" y2="478.2" stroke="#d23840" stroke-width="1.3" stroke-opacity="1"/>
<line x1="333.40" x2="333.40" y1="472.8" y2="478.2" stroke="#d23840" stroke-width="1.55" stroke-opacity="1"/>
<line x1="336.50" x2="336.50" y1="472.8" y2="478.2" stroke="#d23840" stroke-width="1.0" stroke-opacity="0.85"/>
<line x1="338.05" x2="338.05" y1="472.8" y2="478.2" stroke="#d23840" stroke-width="1.3" stroke-opacity="1"/>
<line x1="341.15" x2="341.15" y1="472.8" y2="478.2" stroke="#d23840" stroke-width="1.3" stroke-opacity="1"/>
<line x1="342.70" x2="342.70" y1="472.8" y2="478.2" stroke="#d23840" stroke-width="1.0" stroke-opacity="1"/>
<line x1="344.25" x2="344.25" y1="472.8" y2="478.2" stroke="#d23840" stroke-width="1.0" stroke-opacity="1"/>
<line x1="345.80" x2="345.80" y1="472.8" y2="478.2" stroke="#d23840" stroke-width="1.3" stroke-opacity="0.85"/>
<line x1="347.35" x2="347.35" y1="472.8" y2="478.2" stroke="#d23840" stroke-width="1.0" stroke-opacity="1"/>
<line x1="350.45" x2="350.45" y1="472.8" y2="478.2" stroke="#d23840" stroke-width="1.55" stroke-opacity="0.85"/>
<line x1="352.00" x2="352.00" y1="472.8" y2="478.2" stroke="#d23840" stroke-width="1.55" stroke-opacity="1"/>
<line x1="353.55" x2="353.55" y1="472.8" y2="478.2" stroke="#d23840" stroke-width="1.0" stroke-opacity="1"/>
<line x1="355.10" x2="355.10" y1="472.8" y2="478.2" stroke="#d23840" stroke-width="1.0" stroke-opacity="0.85"/>
<line x1="356.65" x2="356.65" y1="472.8" y2="478.2" stroke="#d23840" stroke-width="1.0" stroke-opacity="1"/>
<line x1="358.20" x2="358.20" y1="472.8" y2="478.2" stroke="#d23840" stroke-width="1.0" stroke-opacity="1"/>
<line x1="359.75" x2="359.75" y1="472.8" y2="478.2" stroke="#d23840" stroke-width="1.0" stroke-opacity="1"/>
<line x1="361.30" x2="361.30" y1="472.8" y2="478.2" stroke="#d23840" stroke-width="1.0" stroke-opacity="1"/>
<line x1="362.85" x2="362.85" y1="472.8" y2="478.2" stroke="#d23840" stroke-width="1.0" stroke-opacity="1"/>
<line x1="364.40" x2="364.40" y1="472.8" y2="478.2" stroke="#d23840" stroke-width="1.3" stroke-opacity="1"/>
<line x1="365.95" x2="365.95" y1="472.8" y2="478.2" stroke="#d23840" stroke-width="1.55" stroke-opacity="0.85"/>
<line x1="367.50" x2="367.50" y1="472.8" y2="478.2" stroke="#d23840" stroke-width="1.0" stroke-opacity="0.85"/>
<rect x="270.8" y="478.9" width="97.80000000000001" height="15.100000000000023" fill="#fff" stroke="none"/>
<path d="M270.8,486.45 L270.80,478.90 L271.62,478.90 L272.43,480.23 L273.25,481.91 L274.06,482.87 L274.88,483.50 L275.69,483.94 L276.50,484.26 L277.32,484.51 L278.13,484.71 L278.95,484.87 L279.76,485.00 L280.58,485.12 L281.40,485.21 L282.21,485.30 L283.03,485.37 L283.84,485.43 L284.66,485.49 L285.47,485.54 L286.29,485.59 L287.10,485.63 L287.92,485.67 L288.73,485.71 L289.55,485.74 L290.36,485.77 L291.18,485.80 L291.99,485.83 L292.81,485.85 L293.62,485.88 L294.44,485.90 L295.25,485.93 L296.06,485.95 L296.88,485.97 L297.69,485.99 L298.51,486.01 L299.33,486.03 L300.14,486.05 L300.96,486.07 L301.77,486.09 L302.59,486.11 L303.40,486.12 L304.22,486.14 L305.03,486.16 L305.85,486.18 L306.66,486.19 L307.48,486.21 L308.29,486.23 L309.11,486.24 L309.92,486.26 L310.74,486.27 L311.55,486.29 L312.37,486.31 L313.18,486.32 L314.00,486.34 L314.81,486.36 L315.62,486.37 L316.44,486.39 L317.25,486.40 L318.07,486.42 L318.88,486.43 L319.70,486.45 L320.51,486.47 L321.33,486.48 L322.15,486.50 L322.96,486.51 L323.78,486.53 L324.59,486.54 L325.41,486.56 L326.22,486.58 L327.04,486.59 L327.85,486.61 L328.67,486.63 L329.48,486.64 L330.30,486.66 L331.11,486.67 L331.93,486.69 L332.74,486.71 L333.56,486.72 L334.37,486.74 L335.19,486.76 L336.00,486.78 L336.82,486.79 L337.63,486.81 L338.45,486.83 L339.26,486.85 L340.08,486.87 L340.89,486.89 L341.71,486.91 L342.52,486.93 L343.34,486.95 L344.15,486.97 L344.97,487.00 L345.78,487.02 L346.60,487.05 L347.41,487.07 L348.23,487.10 L349.04,487.13 L349.86,487.16 L350.67,487.19 L351.49,487.23 L352.30,487.27 L353.12,487.31 L353.93,487.36 L354.75,487.41 L355.56,487.47 L356.38,487.53 L357.19,487.60 L358.00,487.69 L358.82,487.78 L359.63,487.90 L360.45,488.03 L361.27,488.19 L362.08,488.39 L362.90,488.64 L363.71,488.96 L364.53,489.40 L365.34,490.03 L366.16,490.99 L366.97,492.67 L367.79,494.00 L368.60,494.00 L368.6,486.45 Z" fill="#38755a" stroke="#16241c" stroke-width="0.55"/>
<rect x="270.8" y="478.9" width="97.80000000000001" height="15.100000000000023" fill="none" stroke="#111" stroke-width="0.9"/>
<text x="269.0" y="483.772" font-size="5.2" text-anchor="end" font-weight="bold" font-style="normal" fill="#111" stroke="#111" stroke-width="0.3" >20</text>
<text x="269.0" y="495.372" font-size="5.2" text-anchor="end" font-weight="bold" font-style="normal" fill="#111" stroke="#111" stroke-width="0.3" >-20</text>
<text x="368.3" y="415.1" font-size="6.9" text-anchor="end" font-weight="normal" font-style="normal" fill="#111" stroke="#111" stroke-width="0.5" >Perhexiline UP</text>
<text x="368.3" y="422.1" font-size="6.9" text-anchor="end" font-weight="normal" font-style="normal" fill="#111" stroke="#111" stroke-width="0.5" >P=0.013</text>
<text x="270.8" y="502.8" font-size="7.1" text-anchor="start" font-weight="normal" font-style="normal" fill="#111" stroke="#111" stroke-width="0.5" >shHES1</text>
<text x="270.8" y="509.6" font-size="7.1" text-anchor="start" font-weight="normal" font-style="normal" fill="#111" stroke="#111" stroke-width="0.5" >UP</text>
<text x="368.6" y="502.8" font-size="7.1" text-anchor="end" font-weight="normal" font-style="normal" fill="#111" stroke="#111" stroke-width="0.5" >shHES1</text>
<text x="368.6" y="509.6" font-size="7.1" text-anchor="end" font-weight="normal" font-style="normal" fill="#111" stroke="#111" stroke-width="0.5" >DOWN</text>
<text transform="translate(245.6,443.5) rotate(-90)" font-size="9.2" text-anchor="middle" font-weight="normal" font-style="normal" fill="#111" stroke="#111" stroke-width="0.45" >Enrichment</text>
<text transform="translate(254.2,443.5) rotate(-90)" font-size="9.2" text-anchor="middle" font-weight="normal" font-style="normal" fill="#111" stroke="#111" stroke-width="0.45" >score</text>
<text transform="translate(249.8,484) rotate(-90)" font-size="9.2" text-anchor="middle" font-weight="normal" font-style="normal" fill="#111" stroke="#111" stroke-width="0.45" >t−score</text>
<line x1="390.3" x2="390.3" y1="414" y2="472.5" stroke="#222" stroke-width="0.9"/>
<line x1="390.3" x2="487.8" y1="433.7" y2="433.7" stroke="#222" stroke-width="0.9"/>
<line x1="390.3" x2="391.8" y1="417.4" y2="417.4" stroke="#222" stroke-width="0.6"/>
<text x="388.5" y="419.272" font-size="5.2" text-anchor="end" font-weight="bold" font-style="normal" fill="#111" stroke="#111" stroke-width="0.3" >0.2</text>
<line x1="390.3" x2="391.8" y1="433.2" y2="433.2" stroke="#222" stroke-width="0.6"/>
<text x="388.5" y="435.072" font-size="5.2" text-anchor="end" font-weight="bold" font-style="normal" fill="#111" stroke="#111" stroke-width="0.3" >0</text>
<line x1="390.3" x2="391.8" y1="448.7" y2="448.7" stroke="#222" stroke-width="0.6"/>
<text x="388.5" y="450.572" font-size="5.2" text-anchor="end" font-weight="bold" font-style="normal" fill="#111" stroke="#111" stroke-width="0.3" >-0.2</text>
<line x1="390.3" x2="391.8" y1="463.6" y2="463.6" stroke="#222" stroke-width="0.6"/>
<text x="388.5" y="465.47200000000004" font-size="5.2" text-anchor="end" font-weight="bold" font-style="normal" fill="#111" stroke="#111" stroke-width="0.3" >-0.4</text>
<line x1="476.2" x2="476.2" y1="435.5" y2="469" stroke="#111" stroke-width="1.6" stroke-dasharray="5,2.6"/>
<line x1="400.2" x2="400.2" y1="428" y2="433.7" stroke="#222" stroke-width="0.8"/>
<path d="M390.59,425.05 L390.62,425.07 L390.66,424.43 L390.71,424.04 L390.78,423.45 L390.87,423.09 L390.99,422.60 L391.15,422.44 L391.33,423.03 L391.54,422.75 L391.76,422.73 L391.98,423.19 L392.21,423.39 L392.43,423.12 L392.66,423.52 L392.89,423.52 L393.13,423.75 L393.37,423.53 L393.62,423.55 L393.88,424.04 L394.13,423.81 L394.40,423.39 L394.67,423.22 L394.95,422.83 L395.24,422.98 L395.55,422.65 L395.85,422.86 L396.17,422.67 L396.50,422.62 L396.87,422.60 L397.27,422.06 L397.72,421.77 L398.22,421.67 L398.75,421.45 L399.28,421.19 L399.81,421.02 L400.30,421.23 L400.77,421.39 L401.22,421.17 L401.66,421.53 L402.09,421.60 L402.51,421.21 L402.94,421.66 L403.34,421.68 L403.74,421.69 L404.12,422.38 L404.52,422.17 L404.93,422.59 L405.36,422.90 L405.84,423.37 L406.33,423.52 L406.84,423.69 L407.37,424.07 L407.89,424.26 L408.40,425.12 L408.87,425.48 L409.30,425.35 L409.73,425.59 L410.20,426.10 L410.76,426.62 L411.44,427.51 L412.27,428.20 L413.24,428.96 L414.28,429.36 L415.37,430.72 L416.46,431.58 L417.51,432.42 L418.50,433.44 L419.46,433.67 L420.42,434.52 L421.41,435.70 L422.45,436.69 L423.58,437.49 L424.82,438.34 L426.13,439.69 L427.51,441.02 L428.91,441.88 L430.31,443.22 L431.68,444.33 L433.03,445.33 L434.38,446.60 L435.73,447.44 L437.08,448.48 L438.43,449.39 L439.78,450.65 L441.12,451.16 L442.47,452.46 L443.81,453.00 L445.16,453.72 L446.51,455.07 L447.87,455.44 L449.25,456.65 L450.64,457.38 L452.03,458.14 L453.43,458.43 L454.82,459.33 L456.19,459.82 L457.58,461.00 L458.98,461.62 L460.38,462.15 L461.75,462.68 L463.06,463.22 L464.29,464.10 L465.44,464.46 L466.54,465.11 L467.58,465.35 L468.57,465.90 L469.49,466.26 L470.36,467.07 L471.18,467.34 L471.94,467.43 L472.64,468.15 L473.29,468.04 L473.88,468.34 L474.41,468.36 L474.87,468.56 L475.24,468.98 L475.55,468.73 L475.84,468.64 L476.12,468.81 L476.44,468.66 L476.77,468.92 L477.11,468.32 L477.45,468.69 L477.79,467.94 L478.12,468.23 L478.46,467.85 L478.80,467.31 L479.15,467.16 L479.50,466.71 L479.84,466.34 L480.17,465.93 L480.49,465.65 L480.78,465.63 L481.06,465.23 L481.33,464.76 L481.60,463.82 L481.85,463.46 L482.11,463.33 L482.36,462.31 L482.60,462.17 L482.84,461.34 L483.07,461.17 L483.30,459.98 L483.52,459.84 L483.74,458.93 L483.95,458.15 L484.15,457.40 L484.35,457.21 L484.55,456.33 L484.74,455.42 L484.92,454.86 L485.10,454.44 L485.27,453.31 L485.43,452.79 L485.59,451.75 L485.75,450.96 L485.90,450.43 L486.04,449.46 L486.18,448.18 L486.31,447.12 L486.44,446.16 L486.56,445.55 L486.67,444.62 L486.78,443.67 L486.88,442.83 L486.97,442.26 L487.07,441.47 L487.17,440.61 L487.27,439.40 L487.39,437.95 L487.51,436.61 L487.62,435.82 L487.71,434.61 L487.77,433.95" fill="none" stroke="#393c9e" stroke-width="1.75" stroke-linejoin="round" stroke-linecap="round"/>
<rect x="390.3" y="473.4" width="97.5" height="5.0" fill="#fbe6e6"/>
<line x1="390.90" x2="390.90" y1="473.4" y2="478.4" stroke="#cc2c36" stroke-width="1.0" stroke-opacity="1"/>
<line x1="392.45" x2="392.45" y1="473.4" y2="478.4" stroke="#cc2c36" stroke-width="1.55" stroke-opacity="1"/>
<line x1="394.00" x2="394.00" y1="473.4" y2="478.4" stroke="#cc2c36" stroke-width="1.3" stroke-opacity="1"/>
<line x1="395.55" x2="395.55" y1="473.4" y2="478.4" stroke="#cc2c36" stroke-width="1.55" stroke-opacity="1"/>
<line x1="397.10" x2="397.10" y1="473.4" y2="478.4" stroke="#cc2c36" stroke-width="1.55" stroke-opacity="1"/>
<line x1="398.65" x2="398.65" y1="473.4" y2="478.4" stroke="#cc2c36" stroke-width="1.55" stroke-opacity="1"/>
<line x1="400.20" x2="400.20" y1="473.4" y2="478.4" stroke="#cc2c36" stroke-width="1.0" stroke-opacity="1"/>
<line x1="401.75" x2="401.75" y1="473.4" y2="478.4" stroke="#cc2c36" stroke-width="1.3" stroke-opacity="0.85"/>
<line x1="403.30" x2="403.30" y1="473.4" y2="478.4" stroke="#cc2c36" stroke-width="1.55" stroke-opacity="0.85"/>
<line x1="404.85" x2="404.85" y1="473.4" y2="478.4" stroke="#cc2c36" stroke-width="1.3" stroke-opacity="1"/>
<line x1="406.40" x2="406.40" y1="473.4" y2="478.4" stroke="#cc2c36" stroke-width="1.0" stroke-opacity="1"/>
<line x1="407.95" x2="407.95" y1="473.4" y2="478.4" stroke="#cc2c36" stroke-width="1.55" stroke-opacity="1"/>
<line x1="409.50" x2="409.50" y1="473.4" y2="478.4" stroke="#cc2c36" stroke-width="1.0" stroke-opacity="0.85"/>
<line x1="411.05" x2="411.05" y1="473.4" y2="478.4" stroke="#cc2c36" stroke-width="1.0" stroke-opacity="0.85"/>
<line x1="412.60" x2="412.60" y1="473.4" y2="478.4" stroke="#cc2c36" stroke-width="1.0" stroke-opacity="0.85"/>
<line x1="414.15" x2="414.15" y1="473.4" y2="478.4" stroke="#cc2c36" stroke-width="1.55" stroke-opacity="0.85"/>
<line x1="415.70" x2="415.70" y1="473.4" y2="478.4" stroke="#cc2c36" stroke-width="1.55" stroke-opacity="0.85"/>
<line x1="417.25" x2="417.25" y1="473.4" y2="478.4" stroke="#cc2c36" stroke-width="1.55" stroke-opacity="1"/>
<line x1="418.80" x2="418.80" y1="473.4" y2="478.4" stroke="#cc2c36" stroke-width="1.55" stroke-opacity="1"/>
<line x1="420.35" x2="420.35" y1="473.4" y2="478.4" stroke="#cc2c36" stroke-width="1.0" stroke-opacity="0.85"/>
<line x1="421.90" x2="421.90" y1="473.4" y2="478.4" stroke="#cc2c36" stroke-width="1.0" stroke-opacity="1"/>
<line x1="423.45" x2="423.45" y1="473.4" y2="478.4" stroke="#cc2c36" stroke-width="1.55" stroke-opacity="1"/>
<line x1="425.00" x2="425.00" y1="473.4" y2="478.4" stroke="#cc2c36" stroke-width="1.0" stroke-opacity="1"/>
<line x1="429.65" x2="429.65" y1="473.4" y2="478.4" stroke="#cc2c36" stroke-width="1.0" stroke-opacity="0.85"/>
<line x1="434.30" x2="434.30" y1="473.4" y2="478.4" stroke="#cc2c36" stroke-width="1.0" stroke-opacity="1"/>
<line x1="440.50" x2="440.50" y1="473.4" y2="478.4" stroke="#cc2c36" stroke-width="1.0" stroke-opacity="1"/>
<line x1="442.05" x2="442.05" y1="473.4" y2="478.4" stroke="#cc2c36" stroke-width="1.0" stroke-opacity="1"/>
<line x1="449.80" x2="449.80" y1="473.4" y2="478.4" stroke="#cc2c36" stroke-width="1.3" stroke-opacity="0.85"/>
<line x1="451.35" x2="451.35" y1="473.4" y2="478.4" stroke="#cc2c36" stroke-width="1.0" stroke-opacity="1"/>
<line x1="452.90" x2="452.90" y1="473.4" y2="478.4" stroke="#cc2c36" stroke-width="1.3" stroke-opacity="0.85"/>
<line x1="454.45" x2="454.45" y1="473.4" y2="478.4" stroke="#cc2c36" stroke-width="1.55" stroke-opacity="0.85"/>
<line x1="456.00" x2="456.00" y1="473.4" y2="478.4" stroke="#cc2c36" stroke-width="1.3" stroke-opacity="0.85"/>
<line x1="457.55" x2="457.55" y1="473.4" y2="478.4" stroke="#cc2c36" stroke-width="1.0" stroke-opacity="0.85"/>
<line x1="459.10" x2="459.10" y1="473.4" y2="478.4" stroke="#cc2c36" stroke-width="1.3" stroke-opacity="1"/>
<line x1="460.65" x2="460.65" y1="473.4" y2="478.4" stroke="#cc2c36" stroke-width="1.0" stroke-opacity="0.85"/>
<line x1="462.20" x2="462.20" y1="473.4" y2="478.4" stroke="#cc2c36" stroke-width="1.55" stroke-opacity="1"/>
<line x1="463.75" x2="463.75" y1="473.4" y2="478.4" stroke="#cc2c36" stroke-width="1.55" stroke-opacity="1"/>
<line x1="465.30" x2="465.30" y1="473.4" y2="478.4" stroke="#cc2c36" stroke-width="1.0" stroke-opacity="0.85"/>
<line x1="466.85" x2="466.85" y1="473.4" y2="478.4" stroke="#cc2c36" stroke-width="1.55" stroke-opacity="0.85"/>
<line x1="468.40" x2="468.40" y1="473.4" y2="478.4" stroke="#cc2c36" stroke-width="1.0" stroke-opacity="1"/>
<line x1="469.95" x2="469.95" y1="473.4" y2="478.4" stroke="#cc2c36" stroke-width="1.3" stroke-opacity="0.85"/>
<line x1="471.50" x2="471.50" y1="473.4" y2="478.4" stroke="#cc2c36" stroke-width="1.55" stroke-opacity="1"/>
<line x1="473.05" x2="473.05" y1="473.4" y2="478.4" stroke="#cc2c36" stroke-width="1.55" stroke-opacity="0.85"/>
<line x1="474.60" x2="474.60" y1="473.4" y2="478.4" stroke="#cc2c36" stroke-width="1.55" stroke-opacity="0.85"/>
<line x1="476.15" x2="476.15" y1="473.4" y2="478.4" stroke="#cc2c36" stroke-width="1.3" stroke-opacity="1"/>
<line x1="477.70" x2="477.70" y1="473.4" y2="478.4" stroke="#cc2c36" stroke-width="1.55" stroke-opacity="0.85"/>
<line x1="479.25" x2="479.25" y1="473.4" y2="478.4" stroke="#cc2c36" stroke-width="1.3" stroke-opacity="1"/>
<line x1="480.80" x2="480.80" y1="473.4" y2="478.4" stroke="#cc2c36" stroke-width="1.55" stroke-opacity="0.85"/>
<line x1="482.35" x2="482.35" y1="473.4" y2="478.4" stroke="#cc2c36" stroke-width="1.0" stroke-opacity="1"/>
<line x1="483.90" x2="483.90" y1="473.4" y2="478.4" stroke="#cc2c36" stroke-width="1.55" stroke-opacity="1"/>
<line x1="485.45" x2="485.45" y1="473.4" y2="478.4" stroke="#cc2c36" stroke-width="1.3" stroke-opacity="1"/>
<line x1="487.00" x2="487.00" y1="473.4" y2="478.4" stroke="#cc2c36" stroke-width="1.3" stroke-opacity="0.85"/>
<rect x="390.3" y="479.6" width="97.5" height="14.699999999999989" fill="#fff" stroke="none"/>
<path d="M390.3,486.95000000000005 L390.30,479.60 L391.11,479.60 L391.93,480.90 L392.74,482.53 L393.55,483.47 L394.36,484.07 L395.18,484.50 L395.99,484.82 L396.80,485.06 L397.61,485.26 L398.43,485.41 L399.24,485.54 L400.05,485.65 L400.86,485.75 L401.68,485.83 L402.49,485.90 L403.30,485.96 L404.11,486.02 L404.93,486.07 L405.74,486.11 L406.55,486.15 L407.36,486.19 L408.18,486.22 L408.99,486.26 L409.80,486.29 L410.61,486.32 L411.43,486.34 L412.24,486.37 L413.05,486.39 L413.86,486.42 L414.68,486.44 L415.49,486.46 L416.30,486.48 L417.11,486.50 L417.93,486.52 L418.74,486.54 L419.55,486.56 L420.36,486.58 L421.18,486.60 L421.99,486.61 L422.80,486.63 L423.61,486.65 L424.43,486.67 L425.24,486.68 L426.05,486.70 L426.86,486.72 L427.68,486.73 L428.49,486.75 L429.30,486.76 L430.11,486.78 L430.93,486.80 L431.74,486.81 L432.55,486.83 L433.36,486.84 L434.18,486.86 L434.99,486.87 L435.80,486.89 L436.61,486.90 L437.43,486.92 L438.24,486.93 L439.05,486.95 L439.86,486.97 L440.68,486.98 L441.49,487.00 L442.30,487.01 L443.11,487.03 L443.93,487.04 L444.74,487.06 L445.55,487.07 L446.36,487.09 L447.18,487.10 L447.99,487.12 L448.80,487.14 L449.61,487.15 L450.43,487.17 L451.24,487.18 L452.05,487.20 L452.86,487.22 L453.68,487.23 L454.49,487.25 L455.30,487.27 L456.11,487.29 L456.93,487.30 L457.74,487.32 L458.55,487.34 L459.36,487.36 L460.18,487.38 L460.99,487.40 L461.80,487.42 L462.61,487.44 L463.43,487.46 L464.24,487.48 L465.05,487.51 L465.86,487.53 L466.68,487.56 L467.49,487.58 L468.30,487.61 L469.11,487.64 L469.93,487.68 L470.74,487.71 L471.55,487.75 L472.36,487.79 L473.18,487.83 L473.99,487.88 L474.80,487.94 L475.61,488.00 L476.43,488.07 L477.24,488.15 L478.05,488.25 L478.86,488.36 L479.68,488.49 L480.49,488.64 L481.30,488.84 L482.11,489.08 L482.93,489.40 L483.74,489.83 L484.55,490.43 L485.36,491.37 L486.18,493.00 L486.99,494.30 L487.80,494.30 L487.8,486.95000000000005 Z" fill="#38755a" stroke="#16241c" stroke-width="0.55"/>
<rect x="390.3" y="479.6" width="97.5" height="14.699999999999989" fill="none" stroke="#111" stroke-width="0.9"/>
<text x="388.5" y="483.672" font-size="5.2" text-anchor="end" font-weight="bold" font-style="normal" fill="#111" stroke="#111" stroke-width="0.3" >20</text>
<text x="388.5" y="495.372" font-size="5.2" text-anchor="end" font-weight="bold" font-style="normal" fill="#111" stroke="#111" stroke-width="0.3" >-20</text>
<text x="487.5" y="414.5" font-size="6.9" text-anchor="end" font-weight="normal" font-style="normal" fill="#111" stroke="#111" stroke-width="0.5" >Perhexiline DOWN</text>
<text x="487.5" y="421.9" font-size="6.9" text-anchor="end" font-weight="normal" font-style="normal" fill="#111" stroke="#111" stroke-width="0.5" >P=0.032</text>
<text x="390.3" y="503.9" font-size="7.1" text-anchor="start" font-weight="normal" font-style="normal" fill="#111" stroke="#111" stroke-width="0.5" >shHES1</text>
<text x="390.3" y="510.7" font-size="7.1" text-anchor="start" font-weight="normal" font-style="normal" fill="#111" stroke="#111" stroke-width="0.5" >UP</text>
<text x="487.8" y="503.9" font-size="7.1" text-anchor="end" font-weight="normal" font-style="normal" fill="#111" stroke="#111" stroke-width="0.5" >shHES1</text>
<text x="487.8" y="510.7" font-size="7.1" text-anchor="end" font-weight="normal" font-style="normal" fill="#111" stroke="#111" stroke-width="0.5" >DOWN</text>
<text transform="translate(-100,0) rotate(-90)" font-size="8.8" text-anchor="middle" font-weight="normal" font-style="normal" fill="#111" stroke="#111" stroke-width="0.45" >Enrichment</text>
<text transform="translate(-100,0) rotate(-90)" font-size="8.8" text-anchor="middle" font-weight="normal" font-style="normal" fill="#111" stroke="#111" stroke-width="0.45" >score</text>
<text transform="translate(-100,0) rotate(-90)" font-size="8.8" text-anchor="middle" font-weight="normal" font-style="normal" fill="#111" stroke="#111" stroke-width="0.45" >t−score</text>
</svg>
</body></html>
